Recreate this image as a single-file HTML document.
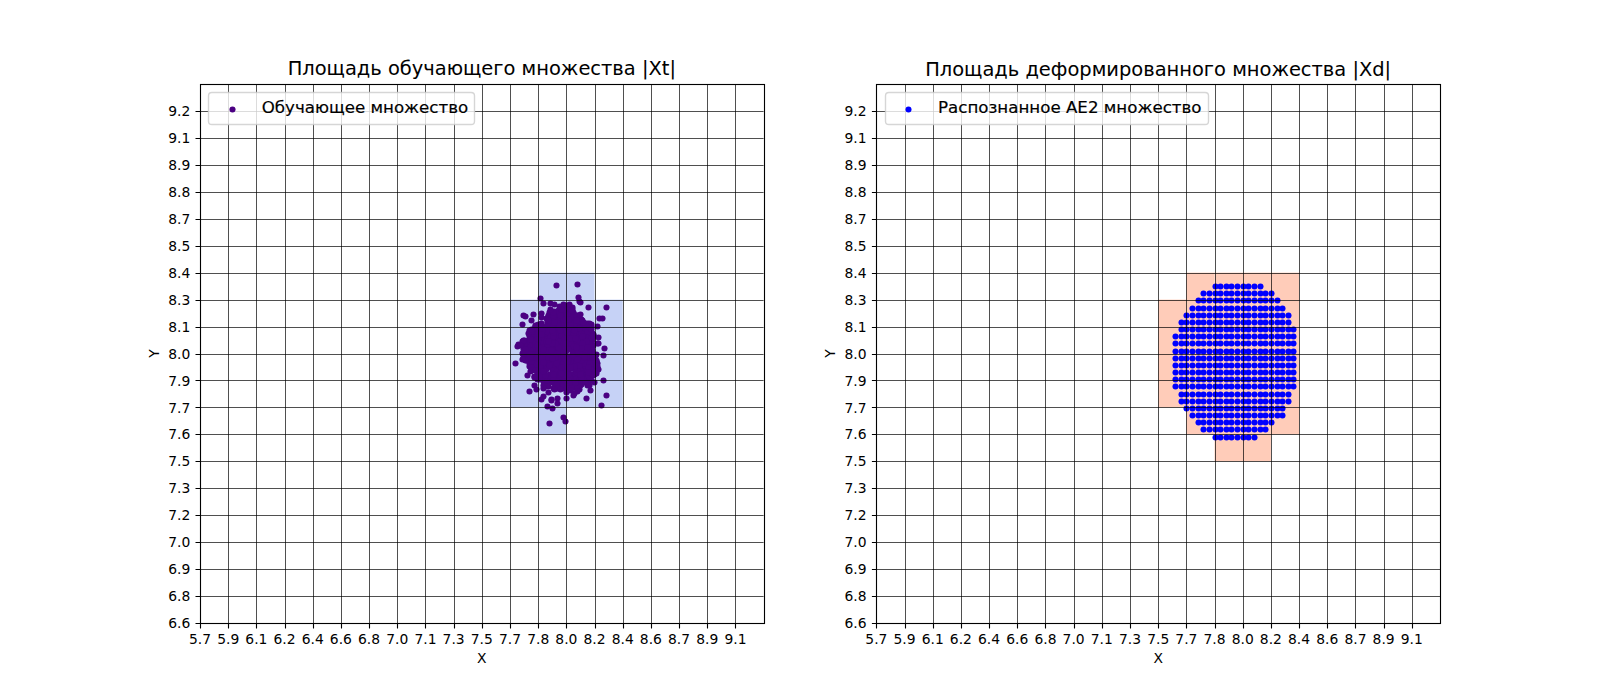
<!DOCTYPE html>
<html lang="ru"><head><meta charset="utf-8"><title>Площадь множеств</title>
<style>html,body{margin:0;padding:0;background:#fff}svg{display:block}text{font-family:"DejaVu Sans","Liberation Sans",sans-serif;fill:#000}</style></head><body>
<svg width="1600" height="700" viewBox="0 0 1600 700">
<rect width="1600" height="700" fill="#fff"/>
<g id="ax0">
<g fill="#c6d2f6">
<rect x="510.00" y="299.60" width="28.18" height="107.80"/>
<rect x="538.18" y="272.65" width="28.18" height="161.70"/>
<rect x="566.36" y="272.65" width="28.18" height="134.75"/>
<rect x="594.55" y="299.60" width="28.18" height="107.80"/>
</g>
<g fill="#4b0082">
<circle cx="565.5" cy="369.5" r="3.05"/>
<circle cx="539.5" cy="348.5" r="3.05"/>
<circle cx="574.5" cy="324.5" r="3.05"/>
<circle cx="577.5" cy="357.5" r="3.05"/>
<circle cx="535.5" cy="338.5" r="3.05"/>
<circle cx="538.5" cy="367.5" r="3.05"/>
<circle cx="554.5" cy="311.5" r="3.05"/>
<circle cx="564.5" cy="376.5" r="3.05"/>
<circle cx="575.5" cy="353.5" r="3.05"/>
<circle cx="546.5" cy="318.5" r="3.05"/>
<circle cx="550.5" cy="344.5" r="3.05"/>
<circle cx="536.5" cy="325.5" r="3.05"/>
<circle cx="555.5" cy="385.5" r="3.05"/>
<circle cx="568.5" cy="324.5" r="3.05"/>
<circle cx="537.5" cy="342.5" r="3.05"/>
<circle cx="558.5" cy="333.5" r="3.05"/>
<circle cx="580.5" cy="373.5" r="3.05"/>
<circle cx="579.5" cy="367.5" r="3.05"/>
<circle cx="547.5" cy="365.5" r="3.05"/>
<circle cx="543.5" cy="355.5" r="3.05"/>
<circle cx="542.5" cy="341.5" r="3.05"/>
<circle cx="579.5" cy="363.5" r="3.05"/>
<circle cx="582.5" cy="344.5" r="3.05"/>
<circle cx="522.5" cy="353.5" r="3.05"/>
<circle cx="578.5" cy="351.5" r="3.05"/>
<circle cx="580.5" cy="322.5" r="3.05"/>
<circle cx="582.5" cy="345.5" r="3.05"/>
<circle cx="594.5" cy="373.5" r="3.05"/>
<circle cx="573.5" cy="333.5" r="3.05"/>
<circle cx="565.5" cy="315.5" r="3.05"/>
<circle cx="558.5" cy="342.5" r="3.05"/>
<circle cx="530.5" cy="371.5" r="3.05"/>
<circle cx="575.5" cy="345.5" r="3.05"/>
<circle cx="537.5" cy="363.5" r="3.05"/>
<circle cx="564.5" cy="382.5" r="3.05"/>
<circle cx="579.5" cy="389.5" r="3.05"/>
<circle cx="579.5" cy="383.5" r="3.05"/>
<circle cx="582.5" cy="332.5" r="3.05"/>
<circle cx="541.5" cy="339.5" r="3.05"/>
<circle cx="579.5" cy="345.5" r="3.05"/>
<circle cx="537.5" cy="340.5" r="3.05"/>
<circle cx="563.5" cy="305.5" r="3.05"/>
<circle cx="580.5" cy="383.5" r="3.05"/>
<circle cx="584.5" cy="326.5" r="3.05"/>
<circle cx="561.5" cy="311.5" r="3.05"/>
<circle cx="528.5" cy="340.5" r="3.05"/>
<circle cx="559.5" cy="356.5" r="3.05"/>
<circle cx="572.5" cy="334.5" r="3.05"/>
<circle cx="571.5" cy="311.5" r="3.05"/>
<circle cx="537.5" cy="378.5" r="3.05"/>
<circle cx="534.5" cy="345.5" r="3.05"/>
<circle cx="556.5" cy="312.5" r="3.05"/>
<circle cx="577.5" cy="378.5" r="3.05"/>
<circle cx="567.5" cy="367.5" r="3.05"/>
<circle cx="553.5" cy="334.5" r="3.05"/>
<circle cx="569.5" cy="309.5" r="3.05"/>
<circle cx="536.5" cy="338.5" r="3.05"/>
<circle cx="566.5" cy="359.5" r="3.05"/>
<circle cx="583.5" cy="361.5" r="3.05"/>
<circle cx="556.5" cy="384.5" r="3.05"/>
<circle cx="577.5" cy="341.5" r="3.05"/>
<circle cx="577.5" cy="343.5" r="3.05"/>
<circle cx="560.5" cy="386.5" r="3.05"/>
<circle cx="581.5" cy="338.5" r="3.05"/>
<circle cx="583.5" cy="345.5" r="3.05"/>
<circle cx="560.5" cy="338.5" r="3.05"/>
<circle cx="576.5" cy="377.5" r="3.05"/>
<circle cx="560.5" cy="354.5" r="3.05"/>
<circle cx="527.5" cy="351.5" r="3.05"/>
<circle cx="570.5" cy="346.5" r="3.05"/>
<circle cx="573.5" cy="355.5" r="3.05"/>
<circle cx="575.5" cy="352.5" r="3.05"/>
<circle cx="565.5" cy="386.5" r="3.05"/>
<circle cx="555.5" cy="351.5" r="3.05"/>
<circle cx="561.5" cy="354.5" r="3.05"/>
<circle cx="592.5" cy="346.5" r="3.05"/>
<circle cx="584.5" cy="353.5" r="3.05"/>
<circle cx="572.5" cy="323.5" r="3.05"/>
<circle cx="524.5" cy="351.5" r="3.05"/>
<circle cx="540.5" cy="372.5" r="3.05"/>
<circle cx="567.5" cy="371.5" r="3.05"/>
<circle cx="544.5" cy="355.5" r="3.05"/>
<circle cx="564.5" cy="351.5" r="3.05"/>
<circle cx="592.5" cy="355.5" r="3.05"/>
<circle cx="552.5" cy="360.5" r="3.05"/>
<circle cx="544.5" cy="336.5" r="3.05"/>
<circle cx="526.5" cy="358.5" r="3.05"/>
<circle cx="571.5" cy="368.5" r="3.05"/>
<circle cx="539.5" cy="325.5" r="3.05"/>
<circle cx="585.5" cy="335.5" r="3.05"/>
<circle cx="539.5" cy="335.5" r="3.05"/>
<circle cx="546.5" cy="346.5" r="3.05"/>
<circle cx="538.5" cy="351.5" r="3.05"/>
<circle cx="530.5" cy="346.5" r="3.05"/>
<circle cx="562.5" cy="365.5" r="3.05"/>
<circle cx="584.5" cy="371.5" r="3.05"/>
<circle cx="552.5" cy="342.5" r="3.05"/>
<circle cx="540.5" cy="360.5" r="3.05"/>
<circle cx="578.5" cy="350.5" r="3.05"/>
<circle cx="544.5" cy="342.5" r="3.05"/>
<circle cx="545.5" cy="348.5" r="3.05"/>
<circle cx="579.5" cy="358.5" r="3.05"/>
<circle cx="545.5" cy="360.5" r="3.05"/>
<circle cx="554.5" cy="348.5" r="3.05"/>
<circle cx="572.5" cy="309.5" r="3.05"/>
<circle cx="552.5" cy="334.5" r="3.05"/>
<circle cx="588.5" cy="347.5" r="3.05"/>
<circle cx="553.5" cy="377.5" r="3.05"/>
<circle cx="559.5" cy="385.5" r="3.05"/>
<circle cx="547.5" cy="360.5" r="3.05"/>
<circle cx="593.5" cy="354.5" r="3.05"/>
<circle cx="542.5" cy="331.5" r="3.05"/>
<circle cx="569.5" cy="308.5" r="3.05"/>
<circle cx="561.5" cy="326.5" r="3.05"/>
<circle cx="544.5" cy="328.5" r="3.05"/>
<circle cx="558.5" cy="339.5" r="3.05"/>
<circle cx="564.5" cy="363.5" r="3.05"/>
<circle cx="544.5" cy="371.5" r="3.05"/>
<circle cx="562.5" cy="369.5" r="3.05"/>
<circle cx="585.5" cy="367.5" r="3.05"/>
<circle cx="586.5" cy="364.5" r="3.05"/>
<circle cx="559.5" cy="383.5" r="3.05"/>
<circle cx="557.5" cy="326.5" r="3.05"/>
<circle cx="537.5" cy="336.5" r="3.05"/>
<circle cx="586.5" cy="324.5" r="3.05"/>
<circle cx="553.5" cy="370.5" r="3.05"/>
<circle cx="580.5" cy="366.5" r="3.05"/>
<circle cx="558.5" cy="310.5" r="3.05"/>
<circle cx="554.5" cy="321.5" r="3.05"/>
<circle cx="579.5" cy="364.5" r="3.05"/>
<circle cx="556.5" cy="369.5" r="3.05"/>
<circle cx="566.5" cy="365.5" r="3.05"/>
<circle cx="573.5" cy="322.5" r="3.05"/>
<circle cx="570.5" cy="387.5" r="3.05"/>
<circle cx="590.5" cy="337.5" r="3.05"/>
<circle cx="534.5" cy="337.5" r="3.05"/>
<circle cx="578.5" cy="341.5" r="3.05"/>
<circle cx="558.5" cy="314.5" r="3.05"/>
<circle cx="582.5" cy="322.5" r="3.05"/>
<circle cx="592.5" cy="372.5" r="3.05"/>
<circle cx="539.5" cy="343.5" r="3.05"/>
<circle cx="581.5" cy="365.5" r="3.05"/>
<circle cx="562.5" cy="317.5" r="3.05"/>
<circle cx="542.5" cy="367.5" r="3.05"/>
<circle cx="555.5" cy="370.5" r="3.05"/>
<circle cx="578.5" cy="332.5" r="3.05"/>
<circle cx="545.5" cy="354.5" r="3.05"/>
<circle cx="552.5" cy="365.5" r="3.05"/>
<circle cx="595.5" cy="365.5" r="3.05"/>
<circle cx="553.5" cy="329.5" r="3.05"/>
<circle cx="585.5" cy="325.5" r="3.05"/>
<circle cx="550.5" cy="334.5" r="3.05"/>
<circle cx="574.5" cy="348.5" r="3.05"/>
<circle cx="590.5" cy="375.5" r="3.05"/>
<circle cx="544.5" cy="384.5" r="3.05"/>
<circle cx="584.5" cy="354.5" r="3.05"/>
<circle cx="555.5" cy="362.5" r="3.05"/>
<circle cx="556.5" cy="380.5" r="3.05"/>
<circle cx="542.5" cy="335.5" r="3.05"/>
<circle cx="566.5" cy="329.5" r="3.05"/>
<circle cx="540.5" cy="336.5" r="3.05"/>
<circle cx="575.5" cy="339.5" r="3.05"/>
<circle cx="560.5" cy="332.5" r="3.05"/>
<circle cx="575.5" cy="315.5" r="3.05"/>
<circle cx="546.5" cy="366.5" r="3.05"/>
<circle cx="580.5" cy="363.5" r="3.05"/>
<circle cx="567.5" cy="310.5" r="3.05"/>
<circle cx="526.5" cy="360.5" r="3.05"/>
<circle cx="539.5" cy="370.5" r="3.05"/>
<circle cx="530.5" cy="362.5" r="3.05"/>
<circle cx="561.5" cy="348.5" r="3.05"/>
<circle cx="540.5" cy="362.5" r="3.05"/>
<circle cx="535.5" cy="363.5" r="3.05"/>
<circle cx="570.5" cy="359.5" r="3.05"/>
<circle cx="563.5" cy="372.5" r="3.05"/>
<circle cx="565.5" cy="324.5" r="3.05"/>
<circle cx="572.5" cy="385.5" r="3.05"/>
<circle cx="583.5" cy="364.5" r="3.05"/>
<circle cx="596.5" cy="363.5" r="3.05"/>
<circle cx="573.5" cy="359.5" r="3.05"/>
<circle cx="592.5" cy="367.5" r="3.05"/>
<circle cx="580.5" cy="330.5" r="3.05"/>
<circle cx="579.5" cy="339.5" r="3.05"/>
<circle cx="581.5" cy="355.5" r="3.05"/>
<circle cx="546.5" cy="326.5" r="3.05"/>
<circle cx="560.5" cy="321.5" r="3.05"/>
<circle cx="538.5" cy="358.5" r="3.05"/>
<circle cx="545.5" cy="383.5" r="3.05"/>
<circle cx="562.5" cy="360.5" r="3.05"/>
<circle cx="578.5" cy="322.5" r="3.05"/>
<circle cx="575.5" cy="321.5" r="3.05"/>
<circle cx="589.5" cy="331.5" r="3.05"/>
<circle cx="581.5" cy="384.5" r="3.05"/>
<circle cx="564.5" cy="325.5" r="3.05"/>
<circle cx="561.5" cy="347.5" r="3.05"/>
<circle cx="586.5" cy="350.5" r="3.05"/>
<circle cx="565.5" cy="340.5" r="3.05"/>
<circle cx="548.5" cy="343.5" r="3.05"/>
<circle cx="544.5" cy="347.5" r="3.05"/>
<circle cx="592.5" cy="364.5" r="3.05"/>
<circle cx="540.5" cy="342.5" r="3.05"/>
<circle cx="572.5" cy="337.5" r="3.05"/>
<circle cx="557.5" cy="317.5" r="3.05"/>
<circle cx="554.5" cy="387.5" r="3.05"/>
<circle cx="567.5" cy="389.5" r="3.05"/>
<circle cx="533.5" cy="355.5" r="3.05"/>
<circle cx="590.5" cy="356.5" r="3.05"/>
<circle cx="572.5" cy="336.5" r="3.05"/>
<circle cx="568.5" cy="332.5" r="3.05"/>
<circle cx="538.5" cy="328.5" r="3.05"/>
<circle cx="575.5" cy="341.5" r="3.05"/>
<circle cx="541.5" cy="349.5" r="3.05"/>
<circle cx="576.5" cy="335.5" r="3.05"/>
<circle cx="550.5" cy="317.5" r="3.05"/>
<circle cx="575.5" cy="357.5" r="3.05"/>
<circle cx="584.5" cy="328.5" r="3.05"/>
<circle cx="591.5" cy="324.5" r="3.05"/>
<circle cx="547.5" cy="325.5" r="3.05"/>
<circle cx="578.5" cy="319.5" r="3.05"/>
<circle cx="584.5" cy="378.5" r="3.05"/>
<circle cx="563.5" cy="313.5" r="3.05"/>
<circle cx="536.5" cy="354.5" r="3.05"/>
<circle cx="572.5" cy="345.5" r="3.05"/>
<circle cx="536.5" cy="366.5" r="3.05"/>
<circle cx="568.5" cy="333.5" r="3.05"/>
<circle cx="538.5" cy="330.5" r="3.05"/>
<circle cx="541.5" cy="354.5" r="3.05"/>
<circle cx="575.5" cy="383.5" r="3.05"/>
<circle cx="548.5" cy="339.5" r="3.05"/>
<circle cx="551.5" cy="375.5" r="3.05"/>
<circle cx="583.5" cy="339.5" r="3.05"/>
<circle cx="574.5" cy="373.5" r="3.05"/>
<circle cx="558.5" cy="345.5" r="3.05"/>
<circle cx="575.5" cy="332.5" r="3.05"/>
<circle cx="575.5" cy="361.5" r="3.05"/>
<circle cx="578.5" cy="340.5" r="3.05"/>
<circle cx="550.5" cy="326.5" r="3.05"/>
<circle cx="586.5" cy="333.5" r="3.05"/>
<circle cx="575.5" cy="326.5" r="3.05"/>
<circle cx="590.5" cy="367.5" r="3.05"/>
<circle cx="568.5" cy="345.5" r="3.05"/>
<circle cx="547.5" cy="341.5" r="3.05"/>
<circle cx="533.5" cy="368.5" r="3.05"/>
<circle cx="580.5" cy="355.5" r="3.05"/>
<circle cx="563.5" cy="322.5" r="3.05"/>
<circle cx="583.5" cy="375.5" r="3.05"/>
<circle cx="581.5" cy="361.5" r="3.05"/>
<circle cx="586.5" cy="359.5" r="3.05"/>
<circle cx="583.5" cy="333.5" r="3.05"/>
<circle cx="544.5" cy="379.5" r="3.05"/>
<circle cx="575.5" cy="362.5" r="3.05"/>
<circle cx="562.5" cy="334.5" r="3.05"/>
<circle cx="569.5" cy="367.5" r="3.05"/>
<circle cx="593.5" cy="345.5" r="3.05"/>
<circle cx="561.5" cy="317.5" r="3.05"/>
<circle cx="572.5" cy="353.5" r="3.05"/>
<circle cx="567.5" cy="340.5" r="3.05"/>
<circle cx="573.5" cy="325.5" r="3.05"/>
<circle cx="559.5" cy="333.5" r="3.05"/>
<circle cx="578.5" cy="388.5" r="3.05"/>
<circle cx="583.5" cy="325.5" r="3.05"/>
<circle cx="580.5" cy="364.5" r="3.05"/>
<circle cx="542.5" cy="378.5" r="3.05"/>
<circle cx="565.5" cy="355.5" r="3.05"/>
<circle cx="549.5" cy="361.5" r="3.05"/>
<circle cx="532.5" cy="337.5" r="3.05"/>
<circle cx="559.5" cy="315.5" r="3.05"/>
<circle cx="571.5" cy="377.5" r="3.05"/>
<circle cx="546.5" cy="377.5" r="3.05"/>
<circle cx="579.5" cy="322.5" r="3.05"/>
<circle cx="564.5" cy="339.5" r="3.05"/>
<circle cx="529.5" cy="336.5" r="3.05"/>
<circle cx="536.5" cy="351.5" r="3.05"/>
<circle cx="592.5" cy="371.5" r="3.05"/>
<circle cx="539.5" cy="378.5" r="3.05"/>
<circle cx="552.5" cy="373.5" r="3.05"/>
<circle cx="558.5" cy="337.5" r="3.05"/>
<circle cx="554.5" cy="340.5" r="3.05"/>
<circle cx="562.5" cy="367.5" r="3.05"/>
<circle cx="555.5" cy="376.5" r="3.05"/>
<circle cx="587.5" cy="349.5" r="3.05"/>
<circle cx="575.5" cy="328.5" r="3.05"/>
<circle cx="582.5" cy="382.5" r="3.05"/>
<circle cx="573.5" cy="358.5" r="3.05"/>
<circle cx="533.5" cy="360.5" r="3.05"/>
<circle cx="565.5" cy="352.5" r="3.05"/>
<circle cx="565.5" cy="332.5" r="3.05"/>
<circle cx="574.5" cy="338.5" r="3.05"/>
<circle cx="560.5" cy="336.5" r="3.05"/>
<circle cx="587.5" cy="323.5" r="3.05"/>
<circle cx="575.5" cy="325.5" r="3.05"/>
<circle cx="558.5" cy="343.5" r="3.05"/>
<circle cx="571.5" cy="329.5" r="3.05"/>
<circle cx="528.5" cy="354.5" r="3.05"/>
<circle cx="587.5" cy="335.5" r="3.05"/>
<circle cx="548.5" cy="335.5" r="3.05"/>
<circle cx="572.5" cy="350.5" r="3.05"/>
<circle cx="581.5" cy="329.5" r="3.05"/>
<circle cx="555.5" cy="328.5" r="3.05"/>
<circle cx="591.5" cy="351.5" r="3.05"/>
<circle cx="577.5" cy="324.5" r="3.05"/>
<circle cx="543.5" cy="337.5" r="3.05"/>
<circle cx="574.5" cy="335.5" r="3.05"/>
<circle cx="548.5" cy="315.5" r="3.05"/>
<circle cx="549.5" cy="352.5" r="3.05"/>
<circle cx="586.5" cy="379.5" r="3.05"/>
<circle cx="573.5" cy="331.5" r="3.05"/>
<circle cx="563.5" cy="312.5" r="3.05"/>
<circle cx="568.5" cy="367.5" r="3.05"/>
<circle cx="589.5" cy="323.5" r="3.05"/>
<circle cx="557.5" cy="355.5" r="3.05"/>
<circle cx="562.5" cy="338.5" r="3.05"/>
<circle cx="527.5" cy="342.5" r="3.05"/>
<circle cx="549.5" cy="312.5" r="3.05"/>
<circle cx="555.5" cy="319.5" r="3.05"/>
<circle cx="571.5" cy="339.5" r="3.05"/>
<circle cx="539.5" cy="329.5" r="3.05"/>
<circle cx="540.5" cy="344.5" r="3.05"/>
<circle cx="563.5" cy="388.5" r="3.05"/>
<circle cx="566.5" cy="349.5" r="3.05"/>
<circle cx="547.5" cy="354.5" r="3.05"/>
<circle cx="586.5" cy="358.5" r="3.05"/>
<circle cx="545.5" cy="342.5" r="3.05"/>
<circle cx="577.5" cy="334.5" r="3.05"/>
<circle cx="581.5" cy="324.5" r="3.05"/>
<circle cx="549.5" cy="354.5" r="3.05"/>
<circle cx="557.5" cy="318.5" r="3.05"/>
<circle cx="533.5" cy="347.5" r="3.05"/>
<circle cx="585.5" cy="381.5" r="3.05"/>
<circle cx="535.5" cy="353.5" r="3.05"/>
<circle cx="534.5" cy="376.5" r="3.05"/>
<circle cx="596.5" cy="371.5" r="3.05"/>
<circle cx="580.5" cy="335.5" r="3.05"/>
<circle cx="553.5" cy="322.5" r="3.05"/>
<circle cx="562.5" cy="378.5" r="3.05"/>
<circle cx="551.5" cy="367.5" r="3.05"/>
<circle cx="535.5" cy="335.5" r="3.05"/>
<circle cx="591.5" cy="334.5" r="3.05"/>
<circle cx="580.5" cy="319.5" r="3.05"/>
<circle cx="597.5" cy="368.5" r="3.05"/>
<circle cx="553.5" cy="357.5" r="3.05"/>
<circle cx="583.5" cy="359.5" r="3.05"/>
<circle cx="585.5" cy="353.5" r="3.05"/>
<circle cx="559.5" cy="342.5" r="3.05"/>
<circle cx="548.5" cy="316.5" r="3.05"/>
<circle cx="581.5" cy="319.5" r="3.05"/>
<circle cx="569.5" cy="328.5" r="3.05"/>
<circle cx="540.5" cy="343.5" r="3.05"/>
<circle cx="554.5" cy="341.5" r="3.05"/>
<circle cx="560.5" cy="308.5" r="3.05"/>
<circle cx="575.5" cy="375.5" r="3.05"/>
<circle cx="554.5" cy="343.5" r="3.05"/>
<circle cx="534.5" cy="340.5" r="3.05"/>
<circle cx="557.5" cy="351.5" r="3.05"/>
<circle cx="583.5" cy="350.5" r="3.05"/>
<circle cx="553.5" cy="352.5" r="3.05"/>
<circle cx="552.5" cy="336.5" r="3.05"/>
<circle cx="577.5" cy="345.5" r="3.05"/>
<circle cx="592.5" cy="333.5" r="3.05"/>
<circle cx="571.5" cy="363.5" r="3.05"/>
<circle cx="538.5" cy="362.5" r="3.05"/>
<circle cx="550.5" cy="312.5" r="3.05"/>
<circle cx="565.5" cy="309.5" r="3.05"/>
<circle cx="543.5" cy="331.5" r="3.05"/>
<circle cx="567.5" cy="318.5" r="3.05"/>
<circle cx="559.5" cy="363.5" r="3.05"/>
<circle cx="564.5" cy="365.5" r="3.05"/>
<circle cx="552.5" cy="382.5" r="3.05"/>
<circle cx="571.5" cy="316.5" r="3.05"/>
<circle cx="546.5" cy="359.5" r="3.05"/>
<circle cx="530.5" cy="364.5" r="3.05"/>
<circle cx="591.5" cy="327.5" r="3.05"/>
<circle cx="561.5" cy="370.5" r="3.05"/>
<circle cx="566.5" cy="387.5" r="3.05"/>
<circle cx="559.5" cy="345.5" r="3.05"/>
<circle cx="548.5" cy="327.5" r="3.05"/>
<circle cx="535.5" cy="341.5" r="3.05"/>
<circle cx="541.5" cy="377.5" r="3.05"/>
<circle cx="590.5" cy="352.5" r="3.05"/>
<circle cx="597.5" cy="363.5" r="3.05"/>
<circle cx="587.5" cy="376.5" r="3.05"/>
<circle cx="590.5" cy="376.5" r="3.05"/>
<circle cx="559.5" cy="323.5" r="3.05"/>
<circle cx="551.5" cy="337.5" r="3.05"/>
<circle cx="559.5" cy="341.5" r="3.05"/>
<circle cx="568.5" cy="356.5" r="3.05"/>
<circle cx="576.5" cy="317.5" r="3.05"/>
<circle cx="552.5" cy="381.5" r="3.05"/>
<circle cx="566.5" cy="337.5" r="3.05"/>
<circle cx="566.5" cy="370.5" r="3.05"/>
<circle cx="580.5" cy="385.5" r="3.05"/>
<circle cx="527.5" cy="354.5" r="3.05"/>
<circle cx="535.5" cy="359.5" r="3.05"/>
<circle cx="556.5" cy="359.5" r="3.05"/>
<circle cx="590.5" cy="347.5" r="3.05"/>
<circle cx="526.5" cy="342.5" r="3.05"/>
<circle cx="566.5" cy="316.5" r="3.05"/>
<circle cx="594.5" cy="366.5" r="3.05"/>
<circle cx="585.5" cy="356.5" r="3.05"/>
<circle cx="590.5" cy="338.5" r="3.05"/>
<circle cx="566.5" cy="362.5" r="3.05"/>
<circle cx="554.5" cy="350.5" r="3.05"/>
<circle cx="589.5" cy="332.5" r="3.05"/>
<circle cx="554.5" cy="334.5" r="3.05"/>
<circle cx="563.5" cy="311.5" r="3.05"/>
<circle cx="584.5" cy="332.5" r="3.05"/>
<circle cx="550.5" cy="332.5" r="3.05"/>
<circle cx="571.5" cy="332.5" r="3.05"/>
<circle cx="556.5" cy="368.5" r="3.05"/>
<circle cx="564.5" cy="337.5" r="3.05"/>
<circle cx="560.5" cy="381.5" r="3.05"/>
<circle cx="582.5" cy="330.5" r="3.05"/>
<circle cx="547.5" cy="351.5" r="3.05"/>
<circle cx="562.5" cy="307.5" r="3.05"/>
<circle cx="528.5" cy="357.5" r="3.05"/>
<circle cx="578.5" cy="336.5" r="3.05"/>
<circle cx="540.5" cy="375.5" r="3.05"/>
<circle cx="573.5" cy="365.5" r="3.05"/>
<circle cx="558.5" cy="335.5" r="3.05"/>
<circle cx="572.5" cy="358.5" r="3.05"/>
<circle cx="532.5" cy="332.5" r="3.05"/>
<circle cx="524.5" cy="347.5" r="3.05"/>
<circle cx="583.5" cy="380.5" r="3.05"/>
<circle cx="550.5" cy="333.5" r="3.05"/>
<circle cx="539.5" cy="353.5" r="3.05"/>
<circle cx="579.5" cy="354.5" r="3.05"/>
<circle cx="581.5" cy="371.5" r="3.05"/>
<circle cx="547.5" cy="357.5" r="3.05"/>
<circle cx="576.5" cy="372.5" r="3.05"/>
<circle cx="571.5" cy="385.5" r="3.05"/>
<circle cx="534.5" cy="333.5" r="3.05"/>
<circle cx="588.5" cy="352.5" r="3.05"/>
<circle cx="589.5" cy="341.5" r="3.05"/>
<circle cx="569.5" cy="320.5" r="3.05"/>
<circle cx="564.5" cy="328.5" r="3.05"/>
<circle cx="539.5" cy="358.5" r="3.05"/>
<circle cx="536.5" cy="367.5" r="3.05"/>
<circle cx="561.5" cy="387.5" r="3.05"/>
<circle cx="575.5" cy="335.5" r="3.05"/>
<circle cx="544.5" cy="369.5" r="3.05"/>
<circle cx="587.5" cy="381.5" r="3.05"/>
<circle cx="552.5" cy="378.5" r="3.05"/>
<circle cx="573.5" cy="354.5" r="3.05"/>
<circle cx="540.5" cy="363.5" r="3.05"/>
<circle cx="564.5" cy="346.5" r="3.05"/>
<circle cx="550.5" cy="348.5" r="3.05"/>
<circle cx="575.5" cy="384.5" r="3.05"/>
<circle cx="572.5" cy="347.5" r="3.05"/>
<circle cx="531.5" cy="354.5" r="3.05"/>
<circle cx="561.5" cy="386.5" r="3.05"/>
<circle cx="554.5" cy="366.5" r="3.05"/>
<circle cx="573.5" cy="327.5" r="3.05"/>
<circle cx="566.5" cy="357.5" r="3.05"/>
<circle cx="549.5" cy="340.5" r="3.05"/>
<circle cx="556.5" cy="381.5" r="3.05"/>
<circle cx="561.5" cy="372.5" r="3.05"/>
<circle cx="565.5" cy="310.5" r="3.05"/>
<circle cx="543.5" cy="347.5" r="3.05"/>
<circle cx="541.5" cy="329.5" r="3.05"/>
<circle cx="566.5" cy="320.5" r="3.05"/>
<circle cx="569.5" cy="382.5" r="3.05"/>
<circle cx="549.5" cy="338.5" r="3.05"/>
<circle cx="527.5" cy="344.5" r="3.05"/>
<circle cx="563.5" cy="343.5" r="3.05"/>
<circle cx="576.5" cy="334.5" r="3.05"/>
<circle cx="549.5" cy="355.5" r="3.05"/>
<circle cx="530.5" cy="357.5" r="3.05"/>
<circle cx="582.5" cy="320.5" r="3.05"/>
<circle cx="530.5" cy="356.5" r="3.05"/>
<circle cx="592.5" cy="352.5" r="3.05"/>
<circle cx="544.5" cy="329.5" r="3.05"/>
<circle cx="529.5" cy="353.5" r="3.05"/>
<circle cx="563.5" cy="350.5" r="3.05"/>
<circle cx="538.5" cy="337.5" r="3.05"/>
<circle cx="533.5" cy="365.5" r="3.05"/>
<circle cx="523.5" cy="358.5" r="3.05"/>
<circle cx="585.5" cy="323.5" r="3.05"/>
<circle cx="556.5" cy="375.5" r="3.05"/>
<circle cx="540.5" cy="340.5" r="3.05"/>
<circle cx="532.5" cy="349.5" r="3.05"/>
<circle cx="526.5" cy="356.5" r="3.05"/>
<circle cx="591.5" cy="337.5" r="3.05"/>
<circle cx="578.5" cy="337.5" r="3.05"/>
<circle cx="529.5" cy="343.5" r="3.05"/>
<circle cx="551.5" cy="330.5" r="3.05"/>
<circle cx="550.5" cy="320.5" r="3.05"/>
<circle cx="544.5" cy="380.5" r="3.05"/>
<circle cx="564.5" cy="311.5" r="3.05"/>
<circle cx="552.5" cy="328.5" r="3.05"/>
<circle cx="582.5" cy="367.5" r="3.05"/>
<circle cx="529.5" cy="333.5" r="3.05"/>
<circle cx="567.5" cy="339.5" r="3.05"/>
<circle cx="564.5" cy="308.5" r="3.05"/>
<circle cx="552.5" cy="375.5" r="3.05"/>
<circle cx="593.5" cy="334.5" r="3.05"/>
<circle cx="529.5" cy="359.5" r="3.05"/>
<circle cx="547.5" cy="321.5" r="3.05"/>
<circle cx="537.5" cy="376.5" r="3.05"/>
<circle cx="563.5" cy="329.5" r="3.05"/>
<circle cx="572.5" cy="326.5" r="3.05"/>
<circle cx="579.5" cy="323.5" r="3.05"/>
<circle cx="585.5" cy="366.5" r="3.05"/>
<circle cx="582.5" cy="324.5" r="3.05"/>
<circle cx="564.5" cy="374.5" r="3.05"/>
<circle cx="570.5" cy="320.5" r="3.05"/>
<circle cx="539.5" cy="369.5" r="3.05"/>
<circle cx="557.5" cy="373.5" r="3.05"/>
<circle cx="592.5" cy="353.5" r="3.05"/>
<circle cx="587.5" cy="382.5" r="3.05"/>
<circle cx="564.5" cy="379.5" r="3.05"/>
<circle cx="556.5" cy="388.5" r="3.05"/>
<circle cx="563.5" cy="327.5" r="3.05"/>
<circle cx="533.5" cy="369.5" r="3.05"/>
<circle cx="550.5" cy="358.5" r="3.05"/>
<circle cx="526.5" cy="355.5" r="3.05"/>
<circle cx="563.5" cy="317.5" r="3.05"/>
<circle cx="587.5" cy="385.5" r="3.05"/>
<circle cx="581.5" cy="378.5" r="3.05"/>
<circle cx="526.5" cy="343.5" r="3.05"/>
<circle cx="552.5" cy="370.5" r="3.05"/>
<circle cx="577.5" cy="328.5" r="3.05"/>
<circle cx="537.5" cy="335.5" r="3.05"/>
<circle cx="543.5" cy="361.5" r="3.05"/>
<circle cx="559.5" cy="324.5" r="3.05"/>
<circle cx="584.5" cy="355.5" r="3.05"/>
<circle cx="564.5" cy="361.5" r="3.05"/>
<circle cx="549.5" cy="320.5" r="3.05"/>
<circle cx="557.5" cy="352.5" r="3.05"/>
<circle cx="595.5" cy="356.5" r="3.05"/>
<circle cx="563.5" cy="364.5" r="3.05"/>
<circle cx="550.5" cy="313.5" r="3.05"/>
<circle cx="531.5" cy="345.5" r="3.05"/>
<circle cx="558.5" cy="374.5" r="3.05"/>
<circle cx="546.5" cy="342.5" r="3.05"/>
<circle cx="546.5" cy="364.5" r="3.05"/>
<circle cx="559.5" cy="329.5" r="3.05"/>
<circle cx="552.5" cy="335.5" r="3.05"/>
<circle cx="590.5" cy="360.5" r="3.05"/>
<circle cx="571.5" cy="337.5" r="3.05"/>
<circle cx="552.5" cy="351.5" r="3.05"/>
<circle cx="548.5" cy="326.5" r="3.05"/>
<circle cx="539.5" cy="371.5" r="3.05"/>
<circle cx="539.5" cy="368.5" r="3.05"/>
<circle cx="536.5" cy="360.5" r="3.05"/>
<circle cx="534.5" cy="348.5" r="3.05"/>
<circle cx="568.5" cy="308.5" r="3.05"/>
<circle cx="577.5" cy="369.5" r="3.05"/>
<circle cx="577.5" cy="351.5" r="3.05"/>
<circle cx="567.5" cy="343.5" r="3.05"/>
<circle cx="555.5" cy="379.5" r="3.05"/>
<circle cx="544.5" cy="339.5" r="3.05"/>
<circle cx="577.5" cy="344.5" r="3.05"/>
<circle cx="583.5" cy="349.5" r="3.05"/>
<circle cx="555.5" cy="317.5" r="3.05"/>
<circle cx="533.5" cy="340.5" r="3.05"/>
<circle cx="536.5" cy="327.5" r="3.05"/>
<circle cx="559.5" cy="313.5" r="3.05"/>
<circle cx="525.5" cy="352.5" r="3.05"/>
<circle cx="587.5" cy="375.5" r="3.05"/>
<circle cx="551.5" cy="317.5" r="3.05"/>
<circle cx="551.5" cy="339.5" r="3.05"/>
<circle cx="591.5" cy="380.5" r="3.05"/>
<circle cx="544.5" cy="344.5" r="3.05"/>
<circle cx="565.5" cy="357.5" r="3.05"/>
<circle cx="561.5" cy="383.5" r="3.05"/>
<circle cx="530.5" cy="353.5" r="3.05"/>
<circle cx="569.5" cy="373.5" r="3.05"/>
<circle cx="530.5" cy="337.5" r="3.05"/>
<circle cx="560.5" cy="366.5" r="3.05"/>
<circle cx="568.5" cy="342.5" r="3.05"/>
<circle cx="587.5" cy="363.5" r="3.05"/>
<circle cx="533.5" cy="329.5" r="3.05"/>
<circle cx="573.5" cy="323.5" r="3.05"/>
<circle cx="537.5" cy="346.5" r="3.05"/>
<circle cx="572.5" cy="362.5" r="3.05"/>
<circle cx="547.5" cy="355.5" r="3.05"/>
<circle cx="592.5" cy="350.5" r="3.05"/>
<circle cx="542.5" cy="345.5" r="3.05"/>
<circle cx="583.5" cy="358.5" r="3.05"/>
<circle cx="566.5" cy="364.5" r="3.05"/>
<circle cx="550.5" cy="381.5" r="3.05"/>
<circle cx="572.5" cy="343.5" r="3.05"/>
<circle cx="590.5" cy="363.5" r="3.05"/>
<circle cx="563.5" cy="330.5" r="3.05"/>
<circle cx="565.5" cy="323.5" r="3.05"/>
<circle cx="558.5" cy="387.5" r="3.05"/>
<circle cx="562.5" cy="376.5" r="3.05"/>
<circle cx="579.5" cy="341.5" r="3.05"/>
<circle cx="578.5" cy="353.5" r="3.05"/>
<circle cx="564.5" cy="326.5" r="3.05"/>
<circle cx="572.5" cy="382.5" r="3.05"/>
<circle cx="595.5" cy="360.5" r="3.05"/>
<circle cx="573.5" cy="379.5" r="3.05"/>
<circle cx="566.5" cy="350.5" r="3.05"/>
<circle cx="585.5" cy="360.5" r="3.05"/>
<circle cx="548.5" cy="342.5" r="3.05"/>
<circle cx="529.5" cy="355.5" r="3.05"/>
<circle cx="557.5" cy="320.5" r="3.05"/>
<circle cx="591.5" cy="344.5" r="3.05"/>
<circle cx="579.5" cy="340.5" r="3.05"/>
<circle cx="525.5" cy="355.5" r="3.05"/>
<circle cx="545.5" cy="341.5" r="3.05"/>
<circle cx="539.5" cy="349.5" r="3.05"/>
<circle cx="546.5" cy="362.5" r="3.05"/>
<circle cx="558.5" cy="377.5" r="3.05"/>
<circle cx="543.5" cy="378.5" r="3.05"/>
<circle cx="544.5" cy="346.5" r="3.05"/>
<circle cx="568.5" cy="326.5" r="3.05"/>
<circle cx="564.5" cy="330.5" r="3.05"/>
<circle cx="573.5" cy="364.5" r="3.05"/>
<circle cx="587.5" cy="354.5" r="3.05"/>
<circle cx="549.5" cy="381.5" r="3.05"/>
<circle cx="548.5" cy="346.5" r="3.05"/>
<circle cx="553.5" cy="313.5" r="3.05"/>
<circle cx="559.5" cy="310.5" r="3.05"/>
<circle cx="566.5" cy="314.5" r="3.05"/>
<circle cx="568.5" cy="321.5" r="3.05"/>
<circle cx="549.5" cy="374.5" r="3.05"/>
<circle cx="593.5" cy="363.5" r="3.05"/>
<circle cx="538.5" cy="378.5" r="3.05"/>
<circle cx="594.5" cy="374.5" r="3.05"/>
<circle cx="560.5" cy="359.5" r="3.05"/>
<circle cx="580.5" cy="375.5" r="3.05"/>
<circle cx="529.5" cy="366.5" r="3.05"/>
<circle cx="573.5" cy="382.5" r="3.05"/>
<circle cx="531.5" cy="359.5" r="3.05"/>
<circle cx="562.5" cy="350.5" r="3.05"/>
<circle cx="533.5" cy="333.5" r="3.05"/>
<circle cx="567.5" cy="345.5" r="3.05"/>
<circle cx="563.5" cy="366.5" r="3.05"/>
<circle cx="552.5" cy="314.5" r="3.05"/>
<circle cx="557.5" cy="332.5" r="3.05"/>
<circle cx="570.5" cy="378.5" r="3.05"/>
<circle cx="567.5" cy="359.5" r="3.05"/>
<circle cx="586.5" cy="369.5" r="3.05"/>
<circle cx="543.5" cy="381.5" r="3.05"/>
<circle cx="537.5" cy="344.5" r="3.05"/>
<circle cx="548.5" cy="386.5" r="3.05"/>
<circle cx="584.5" cy="344.5" r="3.05"/>
<circle cx="559.5" cy="386.5" r="3.05"/>
<circle cx="580.5" cy="347.5" r="3.05"/>
<circle cx="576.5" cy="321.5" r="3.05"/>
<circle cx="537.5" cy="365.5" r="3.05"/>
<circle cx="535.5" cy="326.5" r="3.05"/>
<circle cx="545.5" cy="377.5" r="3.05"/>
<circle cx="537.5" cy="366.5" r="3.05"/>
<circle cx="557.5" cy="363.5" r="3.05"/>
<circle cx="569.5" cy="327.5" r="3.05"/>
<circle cx="567.5" cy="311.5" r="3.05"/>
<circle cx="544.5" cy="357.5" r="3.05"/>
<circle cx="562.5" cy="308.5" r="3.05"/>
<circle cx="587.5" cy="370.5" r="3.05"/>
<circle cx="537.5" cy="379.5" r="3.05"/>
<circle cx="561.5" cy="334.5" r="3.05"/>
<circle cx="577.5" cy="340.5" r="3.05"/>
<circle cx="569.5" cy="326.5" r="3.05"/>
<circle cx="591.5" cy="369.5" r="3.05"/>
<circle cx="569.5" cy="377.5" r="3.05"/>
<circle cx="578.5" cy="387.5" r="3.05"/>
<circle cx="534.5" cy="366.5" r="3.05"/>
<circle cx="560.5" cy="317.5" r="3.05"/>
<circle cx="534.5" cy="356.5" r="3.05"/>
<circle cx="553.5" cy="388.5" r="3.05"/>
<circle cx="590.5" cy="358.5" r="3.05"/>
<circle cx="574.5" cy="345.5" r="3.05"/>
<circle cx="559.5" cy="325.5" r="3.05"/>
<circle cx="524.5" cy="357.5" r="3.05"/>
<circle cx="540.5" cy="349.5" r="3.05"/>
<circle cx="588.5" cy="336.5" r="3.05"/>
<circle cx="537.5" cy="331.5" r="3.05"/>
<circle cx="574.5" cy="368.5" r="3.05"/>
<circle cx="548.5" cy="381.5" r="3.05"/>
<circle cx="587.5" cy="378.5" r="3.05"/>
<circle cx="581.5" cy="333.5" r="3.05"/>
<circle cx="546.5" cy="330.5" r="3.05"/>
<circle cx="570.5" cy="382.5" r="3.05"/>
<circle cx="531.5" cy="355.5" r="3.05"/>
<circle cx="568.5" cy="374.5" r="3.05"/>
<circle cx="530.5" cy="350.5" r="3.05"/>
<circle cx="557.5" cy="385.5" r="3.05"/>
<circle cx="550.5" cy="329.5" r="3.05"/>
<circle cx="560.5" cy="364.5" r="3.05"/>
<circle cx="578.5" cy="352.5" r="3.05"/>
<circle cx="554.5" cy="360.5" r="3.05"/>
<circle cx="535.5" cy="368.5" r="3.05"/>
<circle cx="537.5" cy="341.5" r="3.05"/>
<circle cx="576.5" cy="340.5" r="3.05"/>
<circle cx="563.5" cy="324.5" r="3.05"/>
<circle cx="555.5" cy="336.5" r="3.05"/>
<circle cx="589.5" cy="373.5" r="3.05"/>
<circle cx="584.5" cy="347.5" r="3.05"/>
<circle cx="532.5" cy="358.5" r="3.05"/>
<circle cx="543.5" cy="330.5" r="3.05"/>
<circle cx="588.5" cy="373.5" r="3.05"/>
<circle cx="585.5" cy="351.5" r="3.05"/>
<circle cx="535.5" cy="327.5" r="3.05"/>
<circle cx="588.5" cy="376.5" r="3.05"/>
<circle cx="558.5" cy="352.5" r="3.05"/>
<circle cx="523.5" cy="355.5" r="3.05"/>
<circle cx="580.5" cy="321.5" r="3.05"/>
<circle cx="541.5" cy="372.5" r="3.05"/>
<circle cx="541.5" cy="326.5" r="3.05"/>
<circle cx="551.5" cy="376.5" r="3.05"/>
<circle cx="548.5" cy="323.5" r="3.05"/>
<circle cx="538.5" cy="341.5" r="3.05"/>
<circle cx="544.5" cy="340.5" r="3.05"/>
<circle cx="547.5" cy="345.5" r="3.05"/>
<circle cx="587.5" cy="341.5" r="3.05"/>
<circle cx="546.5" cy="340.5" r="3.05"/>
<circle cx="596.5" cy="364.5" r="3.05"/>
<circle cx="574.5" cy="386.5" r="3.05"/>
<circle cx="535.5" cy="342.5" r="3.05"/>
<circle cx="589.5" cy="338.5" r="3.05"/>
<circle cx="534.5" cy="330.5" r="3.05"/>
<circle cx="560.5" cy="368.5" r="3.05"/>
<circle cx="596.5" cy="361.5" r="3.05"/>
<circle cx="532.5" cy="354.5" r="3.05"/>
<circle cx="580.5" cy="327.5" r="3.05"/>
<circle cx="534.5" cy="331.5" r="3.05"/>
<circle cx="549.5" cy="366.5" r="3.05"/>
<circle cx="576.5" cy="337.5" r="3.05"/>
<circle cx="560.5" cy="383.5" r="3.05"/>
<circle cx="568.5" cy="338.5" r="3.05"/>
<circle cx="536.5" cy="364.5" r="3.05"/>
<circle cx="527.5" cy="347.5" r="3.05"/>
<circle cx="576.5" cy="361.5" r="3.05"/>
<circle cx="537.5" cy="338.5" r="3.05"/>
<circle cx="564.5" cy="323.5" r="3.05"/>
<circle cx="564.5" cy="335.5" r="3.05"/>
<circle cx="535.5" cy="346.5" r="3.05"/>
<circle cx="588.5" cy="384.5" r="3.05"/>
<circle cx="571.5" cy="320.5" r="3.05"/>
<circle cx="553.5" cy="317.5" r="3.05"/>
<circle cx="574.5" cy="322.5" r="3.05"/>
<circle cx="524.5" cy="348.5" r="3.05"/>
<circle cx="529.5" cy="363.5" r="3.05"/>
<circle cx="596.5" cy="360.5" r="3.05"/>
<circle cx="586.5" cy="365.5" r="3.05"/>
<circle cx="559.5" cy="366.5" r="3.05"/>
<circle cx="585.5" cy="334.5" r="3.05"/>
<circle cx="584.5" cy="327.5" r="3.05"/>
<circle cx="547.5" cy="379.5" r="3.05"/>
<circle cx="592.5" cy="374.5" r="3.05"/>
<circle cx="593.5" cy="370.5" r="3.05"/>
<circle cx="594.5" cy="372.5" r="3.05"/>
<circle cx="582.5" cy="342.5" r="3.05"/>
<circle cx="573.5" cy="312.5" r="3.05"/>
<circle cx="579.5" cy="343.5" r="3.05"/>
<circle cx="585.5" cy="365.5" r="3.05"/>
<circle cx="558.5" cy="382.5" r="3.05"/>
<circle cx="585.5" cy="342.5" r="3.05"/>
<circle cx="571.5" cy="317.5" r="3.05"/>
<circle cx="541.5" cy="323.5" r="3.05"/>
<circle cx="547.5" cy="331.5" r="3.05"/>
<circle cx="539.5" cy="328.5" r="3.05"/>
<circle cx="531.5" cy="370.5" r="3.05"/>
<circle cx="525.5" cy="357.5" r="3.05"/>
<circle cx="577.5" cy="315.5" r="3.05"/>
<circle cx="563.5" cy="363.5" r="3.05"/>
<circle cx="549.5" cy="382.5" r="3.05"/>
<circle cx="551.5" cy="365.5" r="3.05"/>
<circle cx="563.5" cy="356.5" r="3.05"/>
<circle cx="564.5" cy="375.5" r="3.05"/>
<circle cx="546.5" cy="329.5" r="3.05"/>
<circle cx="553.5" cy="380.5" r="3.05"/>
<circle cx="531.5" cy="332.5" r="3.05"/>
<circle cx="537.5" cy="333.5" r="3.05"/>
<circle cx="557.5" cy="370.5" r="3.05"/>
<circle cx="583.5" cy="322.5" r="3.05"/>
<circle cx="535.5" cy="325.5" r="3.05"/>
<circle cx="557.5" cy="388.5" r="3.05"/>
<circle cx="544.5" cy="327.5" r="3.05"/>
<circle cx="529.5" cy="330.5" r="3.05"/>
<circle cx="524.5" cy="344.5" r="3.05"/>
<circle cx="575.5" cy="320.5" r="3.05"/>
<circle cx="570.5" cy="361.5" r="3.05"/>
<circle cx="583.5" cy="344.5" r="3.05"/>
<circle cx="568.5" cy="360.5" r="3.05"/>
<circle cx="530.5" cy="339.5" r="3.05"/>
<circle cx="557.5" cy="374.5" r="3.05"/>
<circle cx="543.5" cy="348.5" r="3.05"/>
<circle cx="555.5" cy="314.5" r="3.05"/>
<circle cx="583.5" cy="334.5" r="3.05"/>
<circle cx="589.5" cy="344.5" r="3.05"/>
<circle cx="576.5" cy="315.5" r="3.05"/>
<circle cx="531.5" cy="367.5" r="3.05"/>
<circle cx="592.5" cy="339.5" r="3.05"/>
<circle cx="584.5" cy="363.5" r="3.05"/>
<circle cx="590.5" cy="341.5" r="3.05"/>
<circle cx="558.5" cy="311.5" r="3.05"/>
<circle cx="574.5" cy="323.5" r="3.05"/>
<circle cx="535.5" cy="331.5" r="3.05"/>
<circle cx="572.5" cy="387.5" r="3.05"/>
<circle cx="588.5" cy="351.5" r="3.05"/>
<circle cx="548.5" cy="332.5" r="3.05"/>
<circle cx="552.5" cy="341.5" r="3.05"/>
<circle cx="557.5" cy="362.5" r="3.05"/>
<circle cx="540.5" cy="376.5" r="3.05"/>
<circle cx="548.5" cy="330.5" r="3.05"/>
<circle cx="547.5" cy="339.5" r="3.05"/>
<circle cx="544.5" cy="378.5" r="3.05"/>
<circle cx="538.5" cy="324.5" r="3.05"/>
<circle cx="583.5" cy="379.5" r="3.05"/>
<circle cx="555.5" cy="333.5" r="3.05"/>
<circle cx="586.5" cy="352.5" r="3.05"/>
<circle cx="552.5" cy="324.5" r="3.05"/>
<circle cx="592.5" cy="357.5" r="3.05"/>
<circle cx="543.5" cy="343.5" r="3.05"/>
<circle cx="587.5" cy="331.5" r="3.05"/>
<circle cx="565.5" cy="331.5" r="3.05"/>
<circle cx="547.5" cy="380.5" r="3.05"/>
<circle cx="548.5" cy="321.5" r="3.05"/>
<circle cx="568.5" cy="329.5" r="3.05"/>
<circle cx="540.5" cy="324.5" r="3.05"/>
<circle cx="549.5" cy="351.5" r="3.05"/>
<circle cx="565.5" cy="305.5" r="3.05"/>
<circle cx="579.5" cy="365.5" r="3.05"/>
<circle cx="561.5" cy="335.5" r="3.05"/>
<circle cx="595.5" cy="370.5" r="3.05"/>
<circle cx="567.5" cy="325.5" r="3.05"/>
<circle cx="531.5" cy="361.5" r="3.05"/>
<circle cx="538.5" cy="371.5" r="3.05"/>
<circle cx="529.5" cy="354.5" r="3.05"/>
<circle cx="546.5" cy="369.5" r="3.05"/>
<circle cx="554.5" cy="322.5" r="3.05"/>
<circle cx="553.5" cy="368.5" r="3.05"/>
<circle cx="547.5" cy="323.5" r="3.05"/>
<circle cx="593.5" cy="357.5" r="3.05"/>
<circle cx="524.5" cy="359.5" r="3.05"/>
<circle cx="581.5" cy="360.5" r="3.05"/>
<circle cx="581.5" cy="349.5" r="3.05"/>
<circle cx="541.5" cy="360.5" r="3.05"/>
<circle cx="528.5" cy="333.5" r="3.05"/>
<circle cx="576.5" cy="388.5" r="3.05"/>
<circle cx="521.5" cy="345.5" r="3.05"/>
<circle cx="593.5" cy="375.5" r="3.05"/>
<circle cx="567.5" cy="361.5" r="3.05"/>
<circle cx="556.5" cy="344.5" r="3.05"/>
<circle cx="570.5" cy="342.5" r="3.05"/>
<circle cx="592.5" cy="363.5" r="3.05"/>
<circle cx="547.5" cy="344.5" r="3.05"/>
<circle cx="546.5" cy="331.5" r="3.05"/>
<circle cx="538.5" cy="355.5" r="3.05"/>
<circle cx="530.5" cy="358.5" r="3.05"/>
<circle cx="540.5" cy="366.5" r="3.05"/>
<circle cx="582.5" cy="381.5" r="3.05"/>
<circle cx="535.5" cy="376.5" r="3.05"/>
<circle cx="537.5" cy="345.5" r="3.05"/>
<circle cx="547.5" cy="362.5" r="3.05"/>
<circle cx="543.5" cy="385.5" r="3.05"/>
<circle cx="545.5" cy="355.5" r="3.05"/>
<circle cx="574.5" cy="366.5" r="3.05"/>
<circle cx="549.5" cy="364.5" r="3.05"/>
<circle cx="540.5" cy="365.5" r="3.05"/>
<circle cx="540.5" cy="354.5" r="3.05"/>
<circle cx="539.5" cy="379.5" r="3.05"/>
<circle cx="556.5" cy="371.5" r="3.05"/>
<circle cx="577.5" cy="359.5" r="3.05"/>
<circle cx="553.5" cy="353.5" r="3.05"/>
<circle cx="532.5" cy="331.5" r="3.05"/>
<circle cx="585.5" cy="350.5" r="3.05"/>
<circle cx="552.5" cy="380.5" r="3.05"/>
<circle cx="525.5" cy="351.5" r="3.05"/>
<circle cx="543.5" cy="354.5" r="3.05"/>
<circle cx="579.5" cy="328.5" r="3.05"/>
<circle cx="553.5" cy="378.5" r="3.05"/>
<circle cx="585.5" cy="382.5" r="3.05"/>
<circle cx="589.5" cy="363.5" r="3.05"/>
<circle cx="535.5" cy="370.5" r="3.05"/>
<circle cx="576.5" cy="346.5" r="3.05"/>
<circle cx="563.5" cy="346.5" r="3.05"/>
<circle cx="534.5" cy="357.5" r="3.05"/>
<circle cx="592.5" cy="340.5" r="3.05"/>
<circle cx="555.5" cy="357.5" r="3.05"/>
<circle cx="544.5" cy="350.5" r="3.05"/>
<circle cx="597.5" cy="366.5" r="3.05"/>
<circle cx="591.5" cy="338.5" r="3.05"/>
<circle cx="573.5" cy="334.5" r="3.05"/>
<circle cx="563.5" cy="307.5" r="3.05"/>
<circle cx="586.5" cy="341.5" r="3.05"/>
<circle cx="563.5" cy="319.5" r="3.05"/>
<circle cx="542.5" cy="358.5" r="3.05"/>
<circle cx="582.5" cy="354.5" r="3.05"/>
<circle cx="581.5" cy="344.5" r="3.05"/>
<circle cx="564.5" cy="358.5" r="3.05"/>
<circle cx="547.5" cy="350.5" r="3.05"/>
<circle cx="532.5" cy="357.5" r="3.05"/>
<circle cx="553.5" cy="364.5" r="3.05"/>
<circle cx="525.5" cy="360.5" r="3.05"/>
<circle cx="577.5" cy="339.5" r="3.05"/>
<circle cx="566.5" cy="341.5" r="3.05"/>
<circle cx="548.5" cy="375.5" r="3.05"/>
<circle cx="566.5" cy="385.5" r="3.05"/>
<circle cx="582.5" cy="336.5" r="3.05"/>
<circle cx="542.5" cy="330.5" r="3.05"/>
<circle cx="556.5" cy="363.5" r="3.05"/>
<circle cx="546.5" cy="341.5" r="3.05"/>
<circle cx="593.5" cy="335.5" r="3.05"/>
<circle cx="581.5" cy="377.5" r="3.05"/>
<circle cx="537.5" cy="374.5" r="3.05"/>
<circle cx="568.5" cy="380.5" r="3.05"/>
<circle cx="546.5" cy="386.5" r="3.05"/>
<circle cx="559.5" cy="348.5" r="3.05"/>
<circle cx="574.5" cy="330.5" r="3.05"/>
<circle cx="550.5" cy="311.5" r="3.05"/>
<circle cx="531.5" cy="331.5" r="3.05"/>
<circle cx="550.5" cy="337.5" r="3.05"/>
<circle cx="567.5" cy="314.5" r="3.05"/>
<circle cx="566.5" cy="307.5" r="3.05"/>
<circle cx="570.5" cy="325.5" r="3.05"/>
<circle cx="531.5" cy="329.5" r="3.05"/>
<circle cx="539.5" cy="375.5" r="3.05"/>
<circle cx="564.5" cy="338.5" r="3.05"/>
<circle cx="584.5" cy="357.5" r="3.05"/>
<circle cx="585.5" cy="354.5" r="3.05"/>
<circle cx="567.5" cy="332.5" r="3.05"/>
<circle cx="586.5" cy="356.5" r="3.05"/>
<circle cx="542.5" cy="350.5" r="3.05"/>
<circle cx="560.5" cy="372.5" r="3.05"/>
<circle cx="566.5" cy="342.5" r="3.05"/>
<circle cx="559.5" cy="306.5" r="3.05"/>
<circle cx="558.5" cy="347.5" r="3.05"/>
<circle cx="584.5" cy="356.5" r="3.05"/>
<circle cx="560.5" cy="315.5" r="3.05"/>
<circle cx="536.5" cy="357.5" r="3.05"/>
<circle cx="571.5" cy="338.5" r="3.05"/>
<circle cx="583.5" cy="346.5" r="3.05"/>
<circle cx="593.5" cy="374.5" r="3.05"/>
<circle cx="585.5" cy="349.5" r="3.05"/>
<circle cx="557.5" cy="381.5" r="3.05"/>
<circle cx="553.5" cy="336.5" r="3.05"/>
<circle cx="522.5" cy="341.5" r="3.05"/>
<circle cx="575.5" cy="338.5" r="3.05"/>
<circle cx="588.5" cy="367.5" r="3.05"/>
<circle cx="553.5" cy="374.5" r="3.05"/>
<circle cx="565.5" cy="388.5" r="3.05"/>
<circle cx="576.5" cy="320.5" r="3.05"/>
<circle cx="555.5" cy="343.5" r="3.05"/>
<circle cx="553.5" cy="332.5" r="3.05"/>
<circle cx="570.5" cy="367.5" r="3.05"/>
<circle cx="563.5" cy="384.5" r="3.05"/>
<circle cx="566.5" cy="388.5" r="3.05"/>
<circle cx="575.5" cy="382.5" r="3.05"/>
<circle cx="571.5" cy="388.5" r="3.05"/>
<circle cx="541.5" cy="347.5" r="3.05"/>
<circle cx="538.5" cy="350.5" r="3.05"/>
<circle cx="582.5" cy="343.5" r="3.05"/>
<circle cx="553.5" cy="315.5" r="3.05"/>
<circle cx="552.5" cy="343.5" r="3.05"/>
<circle cx="565.5" cy="343.5" r="3.05"/>
<circle cx="589.5" cy="327.5" r="3.05"/>
<circle cx="581.5" cy="348.5" r="3.05"/>
<circle cx="556.5" cy="385.5" r="3.05"/>
<circle cx="551.5" cy="350.5" r="3.05"/>
<circle cx="523.5" cy="349.5" r="3.05"/>
<circle cx="545.5" cy="375.5" r="3.05"/>
<circle cx="563.5" cy="352.5" r="3.05"/>
<circle cx="537.5" cy="354.5" r="3.05"/>
<circle cx="568.5" cy="319.5" r="3.05"/>
<circle cx="543.5" cy="362.5" r="3.05"/>
<circle cx="525.5" cy="349.5" r="3.05"/>
<circle cx="540.5" cy="348.5" r="3.05"/>
<circle cx="591.5" cy="329.5" r="3.05"/>
<circle cx="551.5" cy="311.5" r="3.05"/>
<circle cx="588.5" cy="372.5" r="3.05"/>
<circle cx="543.5" cy="349.5" r="3.05"/>
<circle cx="560.5" cy="374.5" r="3.05"/>
<circle cx="549.5" cy="365.5" r="3.05"/>
<circle cx="561.5" cy="373.5" r="3.05"/>
<circle cx="541.5" cy="334.5" r="3.05"/>
<circle cx="548.5" cy="357.5" r="3.05"/>
<circle cx="552.5" cy="358.5" r="3.05"/>
<circle cx="548.5" cy="320.5" r="3.05"/>
<circle cx="561.5" cy="367.5" r="3.05"/>
<circle cx="543.5" cy="371.5" r="3.05"/>
<circle cx="580.5" cy="374.5" r="3.05"/>
<circle cx="553.5" cy="312.5" r="3.05"/>
<circle cx="587.5" cy="347.5" r="3.05"/>
<circle cx="548.5" cy="341.5" r="3.05"/>
<circle cx="573.5" cy="346.5" r="3.05"/>
<circle cx="576.5" cy="347.5" r="3.05"/>
<circle cx="560.5" cy="330.5" r="3.05"/>
<circle cx="568.5" cy="349.5" r="3.05"/>
<circle cx="552.5" cy="330.5" r="3.05"/>
<circle cx="524.5" cy="340.5" r="3.05"/>
<circle cx="564.5" cy="309.5" r="3.05"/>
<circle cx="556.5" cy="285.5" r="3.05"/>
<circle cx="577.5" cy="284.5" r="3.05"/>
<circle cx="540.5" cy="298.5" r="3.05"/>
<circle cx="578.5" cy="297.5" r="3.05"/>
<circle cx="579.5" cy="301.5" r="3.05"/>
<circle cx="580.5" cy="302.5" r="3.05"/>
<circle cx="543.5" cy="303.5" r="3.05"/>
<circle cx="550.5" cy="303.5" r="3.05"/>
<circle cx="554.5" cy="304.5" r="3.05"/>
<circle cx="563.5" cy="304.5" r="3.05"/>
<circle cx="569.5" cy="304.5" r="3.05"/>
<circle cx="572.5" cy="307.5" r="3.05"/>
<circle cx="571.5" cy="310.5" r="3.05"/>
<circle cx="588.5" cy="307.5" r="3.05"/>
<circle cx="606.5" cy="307.5" r="3.05"/>
<circle cx="523.5" cy="315.5" r="3.05"/>
<circle cx="525.5" cy="316.5" r="3.05"/>
<circle cx="533.5" cy="314.5" r="3.05"/>
<circle cx="541.5" cy="313.5" r="3.05"/>
<circle cx="541.5" cy="317.5" r="3.05"/>
<circle cx="531.5" cy="320.5" r="3.05"/>
<circle cx="522.5" cy="324.5" r="3.05"/>
<circle cx="599.5" cy="318.5" r="3.05"/>
<circle cx="602.5" cy="318.5" r="3.05"/>
<circle cx="597.5" cy="326.5" r="3.05"/>
<circle cx="550.5" cy="309.5" r="3.05"/>
<circle cx="561.5" cy="309.5" r="3.05"/>
<circle cx="580.5" cy="314.5" r="3.05"/>
<circle cx="598.5" cy="337.5" r="3.05"/>
<circle cx="598.5" cy="343.5" r="3.05"/>
<circle cx="523.5" cy="340.5" r="3.05"/>
<circle cx="518.5" cy="344.5" r="3.05"/>
<circle cx="517.5" cy="346.5" r="3.05"/>
<circle cx="520.5" cy="345.5" r="3.05"/>
<circle cx="523.5" cy="353.5" r="3.05"/>
<circle cx="522.5" cy="359.5" r="3.05"/>
<circle cx="515.5" cy="363.5" r="3.05"/>
<circle cx="527.5" cy="375.5" r="3.05"/>
<circle cx="534.5" cy="377.5" r="3.05"/>
<circle cx="534.5" cy="385.5" r="3.05"/>
<circle cx="529.5" cy="391.5" r="3.05"/>
<circle cx="536.5" cy="389.5" r="3.05"/>
<circle cx="543.5" cy="388.5" r="3.05"/>
<circle cx="548.5" cy="392.5" r="3.05"/>
<circle cx="543.5" cy="396.5" r="3.05"/>
<circle cx="551.5" cy="399.5" r="3.05"/>
<circle cx="557.5" cy="398.5" r="3.05"/>
<circle cx="566.5" cy="398.5" r="3.05"/>
<circle cx="573.5" cy="395.5" r="3.05"/>
<circle cx="577.5" cy="391.5" r="3.05"/>
<circle cx="586.5" cy="398.5" r="3.05"/>
<circle cx="590.5" cy="390.5" r="3.05"/>
<circle cx="589.5" cy="385.5" r="3.05"/>
<circle cx="594.5" cy="382.5" r="3.05"/>
<circle cx="603.5" cy="380.5" r="3.05"/>
<circle cx="606.5" cy="395.5" r="3.05"/>
<circle cx="598.5" cy="369.5" r="3.05"/>
<circle cx="596.5" cy="373.5" r="3.05"/>
<circle cx="596.5" cy="365.5" r="3.05"/>
<circle cx="603.5" cy="355.5" r="3.05"/>
<circle cx="596.5" cy="354.5" r="3.05"/>
<circle cx="594.5" cy="356.5" r="3.05"/>
<circle cx="604.5" cy="348.5" r="3.05"/>
<circle cx="597.5" cy="343.5" r="3.05"/>
<circle cx="593.5" cy="336.5" r="3.05"/>
<circle cx="541.5" cy="399.5" r="3.05"/>
<circle cx="551.5" cy="400.5" r="3.05"/>
<circle cx="557.5" cy="403.5" r="3.05"/>
<circle cx="547.5" cy="406.5" r="3.05"/>
<circle cx="552.5" cy="408.5" r="3.05"/>
<circle cx="574.5" cy="393.5" r="3.05"/>
<circle cx="601.5" cy="405.5" r="3.05"/>
<circle cx="563.5" cy="417.5" r="3.05"/>
<circle cx="565.5" cy="421.5" r="3.05"/>
<circle cx="549.5" cy="423.5" r="3.05"/>
<circle cx="554.5" cy="389.5" r="3.05"/>
<circle cx="560.5" cy="389.5" r="3.05"/>
<circle cx="566.5" cy="392.5" r="3.05"/>
<circle cx="570.5" cy="390.5" r="3.05"/>
</g>
<path d="M228.5 84.0V623.0M256.5 84.0V623.0M285.5 84.0V623.0M313.5 84.0V623.0M341.5 84.0V623.0M369.5 84.0V623.0M397.5 84.0V623.0M425.5 84.0V623.0M454.5 84.0V623.0M482.5 84.0V623.0M510.5 84.0V623.0M538.5 84.0V623.0M566.5 84.0V623.0M595.5 84.0V623.0M623.5 84.0V623.0M651.5 84.0V623.0M679.5 84.0V623.0M707.5 84.0V623.0M735.5 84.0V623.0M200.0 596.5H763.6M200.0 569.5H763.6M200.0 542.5H763.6M200.0 515.5H763.6M200.0 488.5H763.6M200.0 461.5H763.6M200.0 434.5H763.6M200.0 407.5H763.6M200.0 380.5H763.6M200.0 354.5H763.6M200.0 327.5H763.6M200.0 300.5H763.6M200.0 273.5H763.6M200.0 246.5H763.6M200.0 219.5H763.6M200.0 192.5H763.6M200.0 165.5H763.6M200.0 138.5H763.6M200.0 111.5H763.6" stroke="#000" stroke-width="0.694" fill="none"/>
<path d="M200.5 623.5v5M228.5 623.5v5M256.5 623.5v5M285.5 623.5v5M313.5 623.5v5M341.5 623.5v5M369.5 623.5v5M397.5 623.5v5M425.5 623.5v5M454.5 623.5v5M482.5 623.5v5M510.5 623.5v5M538.5 623.5v5M566.5 623.5v5M595.5 623.5v5M623.5 623.5v5M651.5 623.5v5M679.5 623.5v5M707.5 623.5v5M735.5 623.5v5M200.5 623.5h-5M200.5 596.5h-5M200.5 569.5h-5M200.5 542.5h-5M200.5 515.5h-5M200.5 488.5h-5M200.5 461.5h-5M200.5 434.5h-5M200.5 407.5h-5M200.5 380.5h-5M200.5 354.5h-5M200.5 327.5h-5M200.5 300.5h-5M200.5 273.5h-5M200.5 246.5h-5M200.5 219.5h-5M200.5 192.5h-5M200.5 165.5h-5M200.5 138.5h-5M200.5 111.5h-5" stroke="#000" stroke-width="1.11" fill="none"/>
<rect x="200.5" y="84.5" width="564.0" height="539.0" fill="none" stroke="#000" stroke-width="1.11"/>
<g font-size="13.89" text-anchor="middle">
<text x="200.00" y="643.6">5.7</text>
<text x="228.18" y="643.6">5.9</text>
<text x="256.36" y="643.6">6.1</text>
<text x="284.55" y="643.6">6.2</text>
<text x="312.73" y="643.6">6.4</text>
<text x="340.91" y="643.6">6.6</text>
<text x="369.09" y="643.6">6.8</text>
<text x="397.27" y="643.6">7.0</text>
<text x="425.45" y="643.6">7.1</text>
<text x="453.64" y="643.6">7.3</text>
<text x="481.82" y="643.6">7.5</text>
<text x="510.00" y="643.6">7.7</text>
<text x="538.18" y="643.6">7.8</text>
<text x="566.36" y="643.6">8.0</text>
<text x="594.55" y="643.6">8.2</text>
<text x="622.73" y="643.6">8.4</text>
<text x="650.91" y="643.6">8.6</text>
<text x="679.09" y="643.6">8.7</text>
<text x="707.27" y="643.6">8.9</text>
<text x="735.45" y="643.6">9.1</text>
</g>
<g font-size="13.89" text-anchor="end">
<text x="190.28" y="628.10">6.6</text>
<text x="190.28" y="601.15">6.8</text>
<text x="190.28" y="574.20">6.9</text>
<text x="190.28" y="547.25">7.0</text>
<text x="190.28" y="520.30">7.2</text>
<text x="190.28" y="493.35">7.3</text>
<text x="190.28" y="466.40">7.5</text>
<text x="190.28" y="439.45">7.6</text>
<text x="190.28" y="412.50">7.7</text>
<text x="190.28" y="385.55">7.9</text>
<text x="190.28" y="358.60">8.0</text>
<text x="190.28" y="331.65">8.1</text>
<text x="190.28" y="304.70">8.3</text>
<text x="190.28" y="277.75">8.4</text>
<text x="190.28" y="250.80">8.5</text>
<text x="190.28" y="223.85">8.7</text>
<text x="190.28" y="196.90">8.8</text>
<text x="190.28" y="169.95">8.9</text>
<text x="190.28" y="143.00">9.1</text>
<text x="190.28" y="116.05">9.2</text>
</g>
<text x="481.82" y="662.9" font-size="13.89" text-anchor="middle">X</text>
<text transform="translate(158.70,353.50) rotate(-90)" font-size="13.89" text-anchor="middle">Y</text>
<text x="481.82" y="74.8" font-size="19.44" text-anchor="middle" stroke="#000" stroke-width="0.06">Площадь обучающего множества |Xt|</text>
<rect x="208.5" y="92.5" width="266" height="32" rx="3.33" ry="3.33" fill="#fff" fill-opacity="0.8" stroke="#ccc" stroke-opacity="0.8" stroke-width="1.39"/>
<circle cx="232.5" cy="109.5" r="3.05" fill="#4b0082"/>
<text x="261.66" y="112.53" font-size="16.67" stroke="#000" stroke-width="0.17">Обучающее множество</text>
</g>
<g id="ax1">
<g fill="#ffccb9">
<rect x="1158.18" y="299.60" width="28.18" height="107.80"/>
<rect x="1186.36" y="272.65" width="28.18" height="161.70"/>
<rect x="1214.55" y="272.65" width="56.36" height="188.65"/>
<rect x="1270.91" y="272.65" width="28.18" height="161.70"/>
</g>
<g fill="#0000ff">
<circle cx="1215.5" cy="286.5" r="3.03"/>
<circle cx="1220.5" cy="286.5" r="3.03"/>
<circle cx="1226.5" cy="286.5" r="3.03"/>
<circle cx="1231.5" cy="286.5" r="3.03"/>
<circle cx="1237.5" cy="286.5" r="3.03"/>
<circle cx="1243.5" cy="286.5" r="3.03"/>
<circle cx="1248.5" cy="286.5" r="3.03"/>
<circle cx="1254.5" cy="286.5" r="3.03"/>
<circle cx="1260.5" cy="286.5" r="3.03"/>
<circle cx="1203.5" cy="293.5" r="3.03"/>
<circle cx="1209.5" cy="293.5" r="3.03"/>
<circle cx="1215.5" cy="293.5" r="3.03"/>
<circle cx="1220.5" cy="293.5" r="3.03"/>
<circle cx="1226.5" cy="293.5" r="3.03"/>
<circle cx="1231.5" cy="293.5" r="3.03"/>
<circle cx="1237.5" cy="293.5" r="3.03"/>
<circle cx="1243.5" cy="293.5" r="3.03"/>
<circle cx="1248.5" cy="293.5" r="3.03"/>
<circle cx="1254.5" cy="293.5" r="3.03"/>
<circle cx="1260.5" cy="293.5" r="3.03"/>
<circle cx="1265.5" cy="293.5" r="3.03"/>
<circle cx="1271.5" cy="293.5" r="3.03"/>
<circle cx="1198.5" cy="300.5" r="3.03"/>
<circle cx="1203.5" cy="300.5" r="3.03"/>
<circle cx="1209.5" cy="300.5" r="3.03"/>
<circle cx="1215.5" cy="300.5" r="3.03"/>
<circle cx="1220.5" cy="300.5" r="3.03"/>
<circle cx="1226.5" cy="300.5" r="3.03"/>
<circle cx="1231.5" cy="300.5" r="3.03"/>
<circle cx="1237.5" cy="300.5" r="3.03"/>
<circle cx="1243.5" cy="300.5" r="3.03"/>
<circle cx="1248.5" cy="300.5" r="3.03"/>
<circle cx="1254.5" cy="300.5" r="3.03"/>
<circle cx="1260.5" cy="300.5" r="3.03"/>
<circle cx="1265.5" cy="300.5" r="3.03"/>
<circle cx="1271.5" cy="300.5" r="3.03"/>
<circle cx="1277.5" cy="300.5" r="3.03"/>
<circle cx="1192.5" cy="308.5" r="3.03"/>
<circle cx="1198.5" cy="308.5" r="3.03"/>
<circle cx="1203.5" cy="308.5" r="3.03"/>
<circle cx="1209.5" cy="308.5" r="3.03"/>
<circle cx="1215.5" cy="308.5" r="3.03"/>
<circle cx="1220.5" cy="308.5" r="3.03"/>
<circle cx="1226.5" cy="308.5" r="3.03"/>
<circle cx="1231.5" cy="308.5" r="3.03"/>
<circle cx="1237.5" cy="308.5" r="3.03"/>
<circle cx="1243.5" cy="308.5" r="3.03"/>
<circle cx="1248.5" cy="308.5" r="3.03"/>
<circle cx="1254.5" cy="308.5" r="3.03"/>
<circle cx="1260.5" cy="308.5" r="3.03"/>
<circle cx="1265.5" cy="308.5" r="3.03"/>
<circle cx="1271.5" cy="308.5" r="3.03"/>
<circle cx="1277.5" cy="308.5" r="3.03"/>
<circle cx="1282.5" cy="308.5" r="3.03"/>
<circle cx="1186.5" cy="315.5" r="3.03"/>
<circle cx="1192.5" cy="315.5" r="3.03"/>
<circle cx="1198.5" cy="315.5" r="3.03"/>
<circle cx="1203.5" cy="315.5" r="3.03"/>
<circle cx="1209.5" cy="315.5" r="3.03"/>
<circle cx="1215.5" cy="315.5" r="3.03"/>
<circle cx="1220.5" cy="315.5" r="3.03"/>
<circle cx="1226.5" cy="315.5" r="3.03"/>
<circle cx="1231.5" cy="315.5" r="3.03"/>
<circle cx="1237.5" cy="315.5" r="3.03"/>
<circle cx="1243.5" cy="315.5" r="3.03"/>
<circle cx="1248.5" cy="315.5" r="3.03"/>
<circle cx="1254.5" cy="315.5" r="3.03"/>
<circle cx="1260.5" cy="315.5" r="3.03"/>
<circle cx="1265.5" cy="315.5" r="3.03"/>
<circle cx="1271.5" cy="315.5" r="3.03"/>
<circle cx="1277.5" cy="315.5" r="3.03"/>
<circle cx="1282.5" cy="315.5" r="3.03"/>
<circle cx="1288.5" cy="315.5" r="3.03"/>
<circle cx="1181.5" cy="322.5" r="3.03"/>
<circle cx="1186.5" cy="322.5" r="3.03"/>
<circle cx="1192.5" cy="322.5" r="3.03"/>
<circle cx="1198.5" cy="322.5" r="3.03"/>
<circle cx="1203.5" cy="322.5" r="3.03"/>
<circle cx="1209.5" cy="322.5" r="3.03"/>
<circle cx="1215.5" cy="322.5" r="3.03"/>
<circle cx="1220.5" cy="322.5" r="3.03"/>
<circle cx="1226.5" cy="322.5" r="3.03"/>
<circle cx="1231.5" cy="322.5" r="3.03"/>
<circle cx="1237.5" cy="322.5" r="3.03"/>
<circle cx="1243.5" cy="322.5" r="3.03"/>
<circle cx="1248.5" cy="322.5" r="3.03"/>
<circle cx="1254.5" cy="322.5" r="3.03"/>
<circle cx="1260.5" cy="322.5" r="3.03"/>
<circle cx="1265.5" cy="322.5" r="3.03"/>
<circle cx="1271.5" cy="322.5" r="3.03"/>
<circle cx="1277.5" cy="322.5" r="3.03"/>
<circle cx="1282.5" cy="322.5" r="3.03"/>
<circle cx="1288.5" cy="322.5" r="3.03"/>
<circle cx="1181.5" cy="329.5" r="3.03"/>
<circle cx="1186.5" cy="329.5" r="3.03"/>
<circle cx="1192.5" cy="329.5" r="3.03"/>
<circle cx="1198.5" cy="329.5" r="3.03"/>
<circle cx="1203.5" cy="329.5" r="3.03"/>
<circle cx="1209.5" cy="329.5" r="3.03"/>
<circle cx="1215.5" cy="329.5" r="3.03"/>
<circle cx="1220.5" cy="329.5" r="3.03"/>
<circle cx="1226.5" cy="329.5" r="3.03"/>
<circle cx="1231.5" cy="329.5" r="3.03"/>
<circle cx="1237.5" cy="329.5" r="3.03"/>
<circle cx="1243.5" cy="329.5" r="3.03"/>
<circle cx="1248.5" cy="329.5" r="3.03"/>
<circle cx="1254.5" cy="329.5" r="3.03"/>
<circle cx="1260.5" cy="329.5" r="3.03"/>
<circle cx="1265.5" cy="329.5" r="3.03"/>
<circle cx="1271.5" cy="329.5" r="3.03"/>
<circle cx="1277.5" cy="329.5" r="3.03"/>
<circle cx="1282.5" cy="329.5" r="3.03"/>
<circle cx="1288.5" cy="329.5" r="3.03"/>
<circle cx="1293.5" cy="329.5" r="3.03"/>
<circle cx="1175.5" cy="336.5" r="3.03"/>
<circle cx="1181.5" cy="336.5" r="3.03"/>
<circle cx="1186.5" cy="336.5" r="3.03"/>
<circle cx="1192.5" cy="336.5" r="3.03"/>
<circle cx="1198.5" cy="336.5" r="3.03"/>
<circle cx="1203.5" cy="336.5" r="3.03"/>
<circle cx="1209.5" cy="336.5" r="3.03"/>
<circle cx="1215.5" cy="336.5" r="3.03"/>
<circle cx="1220.5" cy="336.5" r="3.03"/>
<circle cx="1226.5" cy="336.5" r="3.03"/>
<circle cx="1231.5" cy="336.5" r="3.03"/>
<circle cx="1237.5" cy="336.5" r="3.03"/>
<circle cx="1243.5" cy="336.5" r="3.03"/>
<circle cx="1248.5" cy="336.5" r="3.03"/>
<circle cx="1254.5" cy="336.5" r="3.03"/>
<circle cx="1260.5" cy="336.5" r="3.03"/>
<circle cx="1265.5" cy="336.5" r="3.03"/>
<circle cx="1271.5" cy="336.5" r="3.03"/>
<circle cx="1277.5" cy="336.5" r="3.03"/>
<circle cx="1282.5" cy="336.5" r="3.03"/>
<circle cx="1288.5" cy="336.5" r="3.03"/>
<circle cx="1293.5" cy="336.5" r="3.03"/>
<circle cx="1175.5" cy="343.5" r="3.03"/>
<circle cx="1181.5" cy="343.5" r="3.03"/>
<circle cx="1186.5" cy="343.5" r="3.03"/>
<circle cx="1192.5" cy="343.5" r="3.03"/>
<circle cx="1198.5" cy="343.5" r="3.03"/>
<circle cx="1203.5" cy="343.5" r="3.03"/>
<circle cx="1209.5" cy="343.5" r="3.03"/>
<circle cx="1215.5" cy="343.5" r="3.03"/>
<circle cx="1220.5" cy="343.5" r="3.03"/>
<circle cx="1226.5" cy="343.5" r="3.03"/>
<circle cx="1231.5" cy="343.5" r="3.03"/>
<circle cx="1237.5" cy="343.5" r="3.03"/>
<circle cx="1243.5" cy="343.5" r="3.03"/>
<circle cx="1248.5" cy="343.5" r="3.03"/>
<circle cx="1254.5" cy="343.5" r="3.03"/>
<circle cx="1260.5" cy="343.5" r="3.03"/>
<circle cx="1265.5" cy="343.5" r="3.03"/>
<circle cx="1271.5" cy="343.5" r="3.03"/>
<circle cx="1277.5" cy="343.5" r="3.03"/>
<circle cx="1282.5" cy="343.5" r="3.03"/>
<circle cx="1288.5" cy="343.5" r="3.03"/>
<circle cx="1293.5" cy="343.5" r="3.03"/>
<circle cx="1175.5" cy="351.5" r="3.03"/>
<circle cx="1181.5" cy="351.5" r="3.03"/>
<circle cx="1186.5" cy="351.5" r="3.03"/>
<circle cx="1192.5" cy="351.5" r="3.03"/>
<circle cx="1198.5" cy="351.5" r="3.03"/>
<circle cx="1203.5" cy="351.5" r="3.03"/>
<circle cx="1209.5" cy="351.5" r="3.03"/>
<circle cx="1215.5" cy="351.5" r="3.03"/>
<circle cx="1220.5" cy="351.5" r="3.03"/>
<circle cx="1226.5" cy="351.5" r="3.03"/>
<circle cx="1231.5" cy="351.5" r="3.03"/>
<circle cx="1237.5" cy="351.5" r="3.03"/>
<circle cx="1243.5" cy="351.5" r="3.03"/>
<circle cx="1248.5" cy="351.5" r="3.03"/>
<circle cx="1254.5" cy="351.5" r="3.03"/>
<circle cx="1260.5" cy="351.5" r="3.03"/>
<circle cx="1265.5" cy="351.5" r="3.03"/>
<circle cx="1271.5" cy="351.5" r="3.03"/>
<circle cx="1277.5" cy="351.5" r="3.03"/>
<circle cx="1282.5" cy="351.5" r="3.03"/>
<circle cx="1288.5" cy="351.5" r="3.03"/>
<circle cx="1293.5" cy="351.5" r="3.03"/>
<circle cx="1175.5" cy="358.5" r="3.03"/>
<circle cx="1181.5" cy="358.5" r="3.03"/>
<circle cx="1186.5" cy="358.5" r="3.03"/>
<circle cx="1192.5" cy="358.5" r="3.03"/>
<circle cx="1198.5" cy="358.5" r="3.03"/>
<circle cx="1203.5" cy="358.5" r="3.03"/>
<circle cx="1209.5" cy="358.5" r="3.03"/>
<circle cx="1215.5" cy="358.5" r="3.03"/>
<circle cx="1220.5" cy="358.5" r="3.03"/>
<circle cx="1226.5" cy="358.5" r="3.03"/>
<circle cx="1231.5" cy="358.5" r="3.03"/>
<circle cx="1237.5" cy="358.5" r="3.03"/>
<circle cx="1243.5" cy="358.5" r="3.03"/>
<circle cx="1248.5" cy="358.5" r="3.03"/>
<circle cx="1254.5" cy="358.5" r="3.03"/>
<circle cx="1260.5" cy="358.5" r="3.03"/>
<circle cx="1265.5" cy="358.5" r="3.03"/>
<circle cx="1271.5" cy="358.5" r="3.03"/>
<circle cx="1277.5" cy="358.5" r="3.03"/>
<circle cx="1282.5" cy="358.5" r="3.03"/>
<circle cx="1288.5" cy="358.5" r="3.03"/>
<circle cx="1293.5" cy="358.5" r="3.03"/>
<circle cx="1175.5" cy="365.5" r="3.03"/>
<circle cx="1181.5" cy="365.5" r="3.03"/>
<circle cx="1186.5" cy="365.5" r="3.03"/>
<circle cx="1192.5" cy="365.5" r="3.03"/>
<circle cx="1198.5" cy="365.5" r="3.03"/>
<circle cx="1203.5" cy="365.5" r="3.03"/>
<circle cx="1209.5" cy="365.5" r="3.03"/>
<circle cx="1215.5" cy="365.5" r="3.03"/>
<circle cx="1220.5" cy="365.5" r="3.03"/>
<circle cx="1226.5" cy="365.5" r="3.03"/>
<circle cx="1231.5" cy="365.5" r="3.03"/>
<circle cx="1237.5" cy="365.5" r="3.03"/>
<circle cx="1243.5" cy="365.5" r="3.03"/>
<circle cx="1248.5" cy="365.5" r="3.03"/>
<circle cx="1254.5" cy="365.5" r="3.03"/>
<circle cx="1260.5" cy="365.5" r="3.03"/>
<circle cx="1265.5" cy="365.5" r="3.03"/>
<circle cx="1271.5" cy="365.5" r="3.03"/>
<circle cx="1277.5" cy="365.5" r="3.03"/>
<circle cx="1282.5" cy="365.5" r="3.03"/>
<circle cx="1288.5" cy="365.5" r="3.03"/>
<circle cx="1293.5" cy="365.5" r="3.03"/>
<circle cx="1175.5" cy="372.5" r="3.03"/>
<circle cx="1181.5" cy="372.5" r="3.03"/>
<circle cx="1186.5" cy="372.5" r="3.03"/>
<circle cx="1192.5" cy="372.5" r="3.03"/>
<circle cx="1198.5" cy="372.5" r="3.03"/>
<circle cx="1203.5" cy="372.5" r="3.03"/>
<circle cx="1209.5" cy="372.5" r="3.03"/>
<circle cx="1215.5" cy="372.5" r="3.03"/>
<circle cx="1220.5" cy="372.5" r="3.03"/>
<circle cx="1226.5" cy="372.5" r="3.03"/>
<circle cx="1231.5" cy="372.5" r="3.03"/>
<circle cx="1237.5" cy="372.5" r="3.03"/>
<circle cx="1243.5" cy="372.5" r="3.03"/>
<circle cx="1248.5" cy="372.5" r="3.03"/>
<circle cx="1254.5" cy="372.5" r="3.03"/>
<circle cx="1260.5" cy="372.5" r="3.03"/>
<circle cx="1265.5" cy="372.5" r="3.03"/>
<circle cx="1271.5" cy="372.5" r="3.03"/>
<circle cx="1277.5" cy="372.5" r="3.03"/>
<circle cx="1282.5" cy="372.5" r="3.03"/>
<circle cx="1288.5" cy="372.5" r="3.03"/>
<circle cx="1293.5" cy="372.5" r="3.03"/>
<circle cx="1175.5" cy="379.5" r="3.03"/>
<circle cx="1181.5" cy="379.5" r="3.03"/>
<circle cx="1186.5" cy="379.5" r="3.03"/>
<circle cx="1192.5" cy="379.5" r="3.03"/>
<circle cx="1198.5" cy="379.5" r="3.03"/>
<circle cx="1203.5" cy="379.5" r="3.03"/>
<circle cx="1209.5" cy="379.5" r="3.03"/>
<circle cx="1215.5" cy="379.5" r="3.03"/>
<circle cx="1220.5" cy="379.5" r="3.03"/>
<circle cx="1226.5" cy="379.5" r="3.03"/>
<circle cx="1231.5" cy="379.5" r="3.03"/>
<circle cx="1237.5" cy="379.5" r="3.03"/>
<circle cx="1243.5" cy="379.5" r="3.03"/>
<circle cx="1248.5" cy="379.5" r="3.03"/>
<circle cx="1254.5" cy="379.5" r="3.03"/>
<circle cx="1260.5" cy="379.5" r="3.03"/>
<circle cx="1265.5" cy="379.5" r="3.03"/>
<circle cx="1271.5" cy="379.5" r="3.03"/>
<circle cx="1277.5" cy="379.5" r="3.03"/>
<circle cx="1282.5" cy="379.5" r="3.03"/>
<circle cx="1288.5" cy="379.5" r="3.03"/>
<circle cx="1293.5" cy="379.5" r="3.03"/>
<circle cx="1175.5" cy="386.5" r="3.03"/>
<circle cx="1181.5" cy="386.5" r="3.03"/>
<circle cx="1186.5" cy="386.5" r="3.03"/>
<circle cx="1192.5" cy="386.5" r="3.03"/>
<circle cx="1198.5" cy="386.5" r="3.03"/>
<circle cx="1203.5" cy="386.5" r="3.03"/>
<circle cx="1209.5" cy="386.5" r="3.03"/>
<circle cx="1215.5" cy="386.5" r="3.03"/>
<circle cx="1220.5" cy="386.5" r="3.03"/>
<circle cx="1226.5" cy="386.5" r="3.03"/>
<circle cx="1231.5" cy="386.5" r="3.03"/>
<circle cx="1237.5" cy="386.5" r="3.03"/>
<circle cx="1243.5" cy="386.5" r="3.03"/>
<circle cx="1248.5" cy="386.5" r="3.03"/>
<circle cx="1254.5" cy="386.5" r="3.03"/>
<circle cx="1260.5" cy="386.5" r="3.03"/>
<circle cx="1265.5" cy="386.5" r="3.03"/>
<circle cx="1271.5" cy="386.5" r="3.03"/>
<circle cx="1277.5" cy="386.5" r="3.03"/>
<circle cx="1282.5" cy="386.5" r="3.03"/>
<circle cx="1288.5" cy="386.5" r="3.03"/>
<circle cx="1293.5" cy="386.5" r="3.03"/>
<circle cx="1181.5" cy="394.5" r="3.03"/>
<circle cx="1186.5" cy="394.5" r="3.03"/>
<circle cx="1192.5" cy="394.5" r="3.03"/>
<circle cx="1198.5" cy="394.5" r="3.03"/>
<circle cx="1203.5" cy="394.5" r="3.03"/>
<circle cx="1209.5" cy="394.5" r="3.03"/>
<circle cx="1215.5" cy="394.5" r="3.03"/>
<circle cx="1220.5" cy="394.5" r="3.03"/>
<circle cx="1226.5" cy="394.5" r="3.03"/>
<circle cx="1231.5" cy="394.5" r="3.03"/>
<circle cx="1237.5" cy="394.5" r="3.03"/>
<circle cx="1243.5" cy="394.5" r="3.03"/>
<circle cx="1248.5" cy="394.5" r="3.03"/>
<circle cx="1254.5" cy="394.5" r="3.03"/>
<circle cx="1260.5" cy="394.5" r="3.03"/>
<circle cx="1265.5" cy="394.5" r="3.03"/>
<circle cx="1271.5" cy="394.5" r="3.03"/>
<circle cx="1277.5" cy="394.5" r="3.03"/>
<circle cx="1282.5" cy="394.5" r="3.03"/>
<circle cx="1288.5" cy="394.5" r="3.03"/>
<circle cx="1181.5" cy="401.5" r="3.03"/>
<circle cx="1186.5" cy="401.5" r="3.03"/>
<circle cx="1192.5" cy="401.5" r="3.03"/>
<circle cx="1198.5" cy="401.5" r="3.03"/>
<circle cx="1203.5" cy="401.5" r="3.03"/>
<circle cx="1209.5" cy="401.5" r="3.03"/>
<circle cx="1215.5" cy="401.5" r="3.03"/>
<circle cx="1220.5" cy="401.5" r="3.03"/>
<circle cx="1226.5" cy="401.5" r="3.03"/>
<circle cx="1231.5" cy="401.5" r="3.03"/>
<circle cx="1237.5" cy="401.5" r="3.03"/>
<circle cx="1243.5" cy="401.5" r="3.03"/>
<circle cx="1248.5" cy="401.5" r="3.03"/>
<circle cx="1254.5" cy="401.5" r="3.03"/>
<circle cx="1260.5" cy="401.5" r="3.03"/>
<circle cx="1265.5" cy="401.5" r="3.03"/>
<circle cx="1271.5" cy="401.5" r="3.03"/>
<circle cx="1277.5" cy="401.5" r="3.03"/>
<circle cx="1282.5" cy="401.5" r="3.03"/>
<circle cx="1288.5" cy="401.5" r="3.03"/>
<circle cx="1186.5" cy="408.5" r="3.03"/>
<circle cx="1192.5" cy="408.5" r="3.03"/>
<circle cx="1198.5" cy="408.5" r="3.03"/>
<circle cx="1203.5" cy="408.5" r="3.03"/>
<circle cx="1209.5" cy="408.5" r="3.03"/>
<circle cx="1215.5" cy="408.5" r="3.03"/>
<circle cx="1220.5" cy="408.5" r="3.03"/>
<circle cx="1226.5" cy="408.5" r="3.03"/>
<circle cx="1231.5" cy="408.5" r="3.03"/>
<circle cx="1237.5" cy="408.5" r="3.03"/>
<circle cx="1243.5" cy="408.5" r="3.03"/>
<circle cx="1248.5" cy="408.5" r="3.03"/>
<circle cx="1254.5" cy="408.5" r="3.03"/>
<circle cx="1260.5" cy="408.5" r="3.03"/>
<circle cx="1265.5" cy="408.5" r="3.03"/>
<circle cx="1271.5" cy="408.5" r="3.03"/>
<circle cx="1277.5" cy="408.5" r="3.03"/>
<circle cx="1282.5" cy="408.5" r="3.03"/>
<circle cx="1192.5" cy="415.5" r="3.03"/>
<circle cx="1198.5" cy="415.5" r="3.03"/>
<circle cx="1203.5" cy="415.5" r="3.03"/>
<circle cx="1209.5" cy="415.5" r="3.03"/>
<circle cx="1215.5" cy="415.5" r="3.03"/>
<circle cx="1220.5" cy="415.5" r="3.03"/>
<circle cx="1226.5" cy="415.5" r="3.03"/>
<circle cx="1231.5" cy="415.5" r="3.03"/>
<circle cx="1237.5" cy="415.5" r="3.03"/>
<circle cx="1243.5" cy="415.5" r="3.03"/>
<circle cx="1248.5" cy="415.5" r="3.03"/>
<circle cx="1254.5" cy="415.5" r="3.03"/>
<circle cx="1260.5" cy="415.5" r="3.03"/>
<circle cx="1265.5" cy="415.5" r="3.03"/>
<circle cx="1271.5" cy="415.5" r="3.03"/>
<circle cx="1277.5" cy="415.5" r="3.03"/>
<circle cx="1282.5" cy="415.5" r="3.03"/>
<circle cx="1198.5" cy="422.5" r="3.03"/>
<circle cx="1203.5" cy="422.5" r="3.03"/>
<circle cx="1209.5" cy="422.5" r="3.03"/>
<circle cx="1215.5" cy="422.5" r="3.03"/>
<circle cx="1220.5" cy="422.5" r="3.03"/>
<circle cx="1226.5" cy="422.5" r="3.03"/>
<circle cx="1231.5" cy="422.5" r="3.03"/>
<circle cx="1237.5" cy="422.5" r="3.03"/>
<circle cx="1243.5" cy="422.5" r="3.03"/>
<circle cx="1248.5" cy="422.5" r="3.03"/>
<circle cx="1254.5" cy="422.5" r="3.03"/>
<circle cx="1260.5" cy="422.5" r="3.03"/>
<circle cx="1265.5" cy="422.5" r="3.03"/>
<circle cx="1271.5" cy="422.5" r="3.03"/>
<circle cx="1203.5" cy="429.5" r="3.03"/>
<circle cx="1209.5" cy="429.5" r="3.03"/>
<circle cx="1215.5" cy="429.5" r="3.03"/>
<circle cx="1220.5" cy="429.5" r="3.03"/>
<circle cx="1226.5" cy="429.5" r="3.03"/>
<circle cx="1231.5" cy="429.5" r="3.03"/>
<circle cx="1237.5" cy="429.5" r="3.03"/>
<circle cx="1243.5" cy="429.5" r="3.03"/>
<circle cx="1248.5" cy="429.5" r="3.03"/>
<circle cx="1254.5" cy="429.5" r="3.03"/>
<circle cx="1260.5" cy="429.5" r="3.03"/>
<circle cx="1265.5" cy="429.5" r="3.03"/>
<circle cx="1215.5" cy="437.5" r="3.03"/>
<circle cx="1220.5" cy="437.5" r="3.03"/>
<circle cx="1226.5" cy="437.5" r="3.03"/>
<circle cx="1231.5" cy="437.5" r="3.03"/>
<circle cx="1237.5" cy="437.5" r="3.03"/>
<circle cx="1243.5" cy="437.5" r="3.03"/>
<circle cx="1248.5" cy="437.5" r="3.03"/>
<circle cx="1254.5" cy="437.5" r="3.03"/>
</g>
<path d="M905.5 84.0V623.0M933.5 84.0V623.0M961.5 84.0V623.0M989.5 84.0V623.0M1017.5 84.0V623.0M1045.5 84.0V623.0M1074.5 84.0V623.0M1102.5 84.0V623.0M1130.5 84.0V623.0M1158.5 84.0V623.0M1186.5 84.0V623.0M1215.5 84.0V623.0M1243.5 84.0V623.0M1271.5 84.0V623.0M1299.5 84.0V623.0M1327.5 84.0V623.0M1355.5 84.0V623.0M1384.5 84.0V623.0M1412.5 84.0V623.0M876.4 596.5H1440.0M876.4 569.5H1440.0M876.4 542.5H1440.0M876.4 515.5H1440.0M876.4 488.5H1440.0M876.4 461.5H1440.0M876.4 434.5H1440.0M876.4 407.5H1440.0M876.4 380.5H1440.0M876.4 354.5H1440.0M876.4 327.5H1440.0M876.4 300.5H1440.0M876.4 273.5H1440.0M876.4 246.5H1440.0M876.4 219.5H1440.0M876.4 192.5H1440.0M876.4 165.5H1440.0M876.4 138.5H1440.0M876.4 111.5H1440.0" stroke="#000" stroke-width="0.694" fill="none"/>
<path d="M876.5 623.5v5M905.5 623.5v5M933.5 623.5v5M961.5 623.5v5M989.5 623.5v5M1017.5 623.5v5M1045.5 623.5v5M1074.5 623.5v5M1102.5 623.5v5M1130.5 623.5v5M1158.5 623.5v5M1186.5 623.5v5M1215.5 623.5v5M1243.5 623.5v5M1271.5 623.5v5M1299.5 623.5v5M1327.5 623.5v5M1355.5 623.5v5M1384.5 623.5v5M1412.5 623.5v5M876.9 623.5h-5M876.9 596.5h-5M876.9 569.5h-5M876.9 542.5h-5M876.9 515.5h-5M876.9 488.5h-5M876.9 461.5h-5M876.9 434.5h-5M876.9 407.5h-5M876.9 380.5h-5M876.9 354.5h-5M876.9 327.5h-5M876.9 300.5h-5M876.9 273.5h-5M876.9 246.5h-5M876.9 219.5h-5M876.9 192.5h-5M876.9 165.5h-5M876.9 138.5h-5M876.9 111.5h-5" stroke="#000" stroke-width="1.11" fill="none"/>
<rect x="876.5" y="84.5" width="564.0" height="539.0" fill="none" stroke="#000" stroke-width="1.11"/>
<g font-size="13.89" text-anchor="middle">
<text x="876.36" y="643.6">5.7</text>
<text x="904.55" y="643.6">5.9</text>
<text x="932.73" y="643.6">6.1</text>
<text x="960.91" y="643.6">6.2</text>
<text x="989.09" y="643.6">6.4</text>
<text x="1017.27" y="643.6">6.6</text>
<text x="1045.45" y="643.6">6.8</text>
<text x="1073.64" y="643.6">7.0</text>
<text x="1101.82" y="643.6">7.1</text>
<text x="1130.00" y="643.6">7.3</text>
<text x="1158.18" y="643.6">7.5</text>
<text x="1186.36" y="643.6">7.7</text>
<text x="1214.55" y="643.6">7.8</text>
<text x="1242.73" y="643.6">8.0</text>
<text x="1270.91" y="643.6">8.2</text>
<text x="1299.09" y="643.6">8.4</text>
<text x="1327.27" y="643.6">8.6</text>
<text x="1355.45" y="643.6">8.7</text>
<text x="1383.64" y="643.6">8.9</text>
<text x="1411.82" y="643.6">9.1</text>
</g>
<g font-size="13.89" text-anchor="end">
<text x="866.64" y="628.10">6.6</text>
<text x="866.64" y="601.15">6.8</text>
<text x="866.64" y="574.20">6.9</text>
<text x="866.64" y="547.25">7.0</text>
<text x="866.64" y="520.30">7.2</text>
<text x="866.64" y="493.35">7.3</text>
<text x="866.64" y="466.40">7.5</text>
<text x="866.64" y="439.45">7.6</text>
<text x="866.64" y="412.50">7.7</text>
<text x="866.64" y="385.55">7.9</text>
<text x="866.64" y="358.60">8.0</text>
<text x="866.64" y="331.65">8.1</text>
<text x="866.64" y="304.70">8.3</text>
<text x="866.64" y="277.75">8.4</text>
<text x="866.64" y="250.80">8.5</text>
<text x="866.64" y="223.85">8.7</text>
<text x="866.64" y="196.90">8.8</text>
<text x="866.64" y="169.95">8.9</text>
<text x="866.64" y="143.00">9.1</text>
<text x="866.64" y="116.05">9.2</text>
</g>
<text x="1158.18" y="662.9" font-size="13.89" text-anchor="middle">X</text>
<text transform="translate(835.06,353.50) rotate(-90)" font-size="13.89" text-anchor="middle">Y</text>
<text x="1158.18" y="75.67" font-size="19.44" text-anchor="middle" stroke="#000" stroke-width="0.06">Площадь деформированного множества |Xd|</text>
<rect x="885.5" y="92.5" width="323" height="32" rx="3.33" ry="3.33" fill="#fff" fill-opacity="0.8" stroke="#ccc" stroke-opacity="0.8" stroke-width="1.39"/>
<circle cx="908.5" cy="109.5" r="3.03" fill="#0000ff"/>
<text x="938.02" y="112.53" font-size="16.67" stroke="#000" stroke-width="0.17">Распознанное AE2 множество</text>
</g>
</svg></body></html>
